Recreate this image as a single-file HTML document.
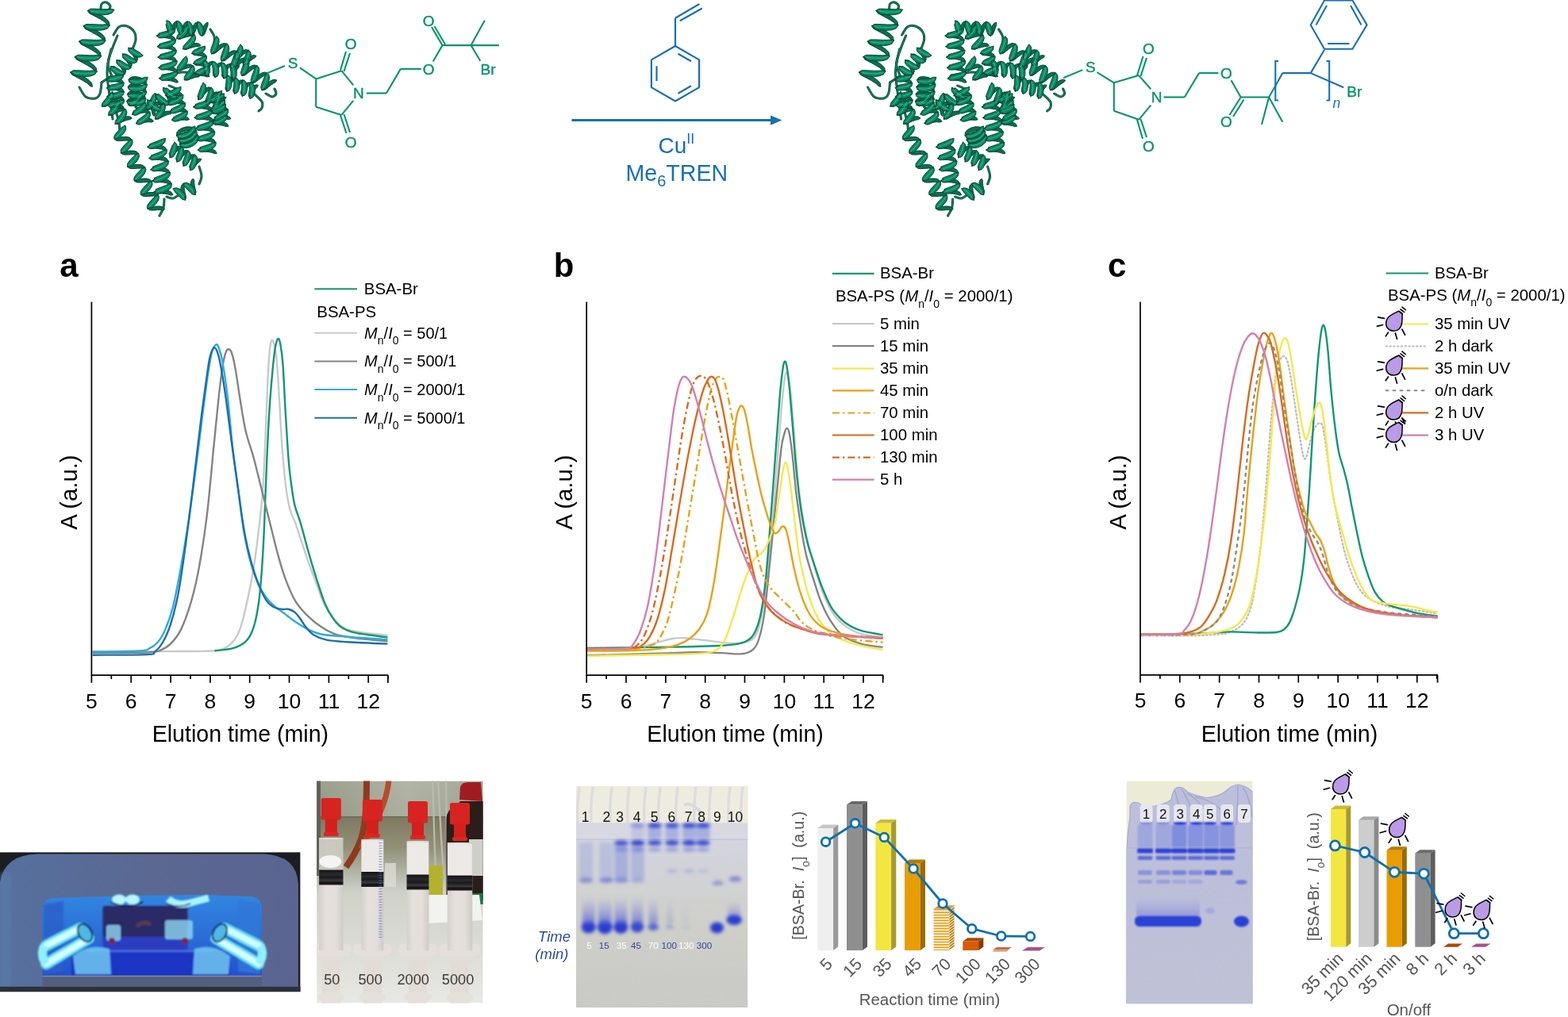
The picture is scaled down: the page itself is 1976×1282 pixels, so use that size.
<!DOCTYPE html>
<html><head><meta charset="utf-8"><title>BSA-PS figure</title>
<style>
html,body{margin:0;padding:0;background:#fff;width:1976px;height:1282px;overflow:hidden}
svg{display:block}
text{font-family:"Liberation Sans",Arial,Helvetica,sans-serif}
</style></head><body>
<svg width="1976" height="1282" viewBox="0 0 1976 1282">
<rect width="1976" height="1282" fill="#fff"/>
<defs>
<path id="pF" d="M139.8,11.3 138.7,11.3 135.1,11.6 129.6,11.6 123.5,11.3 117.9,11.1 113.8,11.2 110.1,13.5 114.2,14.7 113.4,16.8 117.2,17.8 122.9,18.6 129.6,18.9 135.9,18.3 141,16.4 143.9,12.5ZM134.4,30.7 133.3,30.7 129.7,31 124.2,31 118.1,30.7 112.5,30.5 108.4,30.6 104.7,32.9 108.8,34.1 108,36.2 111.8,37.2 117.5,38 124.2,38.3 130.5,37.7 135.6,35.8 138.5,31.9ZM129,50.1 127.9,50.1 124.3,50.4 118.8,50.4 112.7,50.1 107.1,49.9 103,50 99.3,52.3 103.4,53.5 102.6,55.6 106.4,56.6 112.1,57.4 118.8,57.7 125.1,57.1 130.2,55.2 133.1,51.3ZM123.6,69.5 122.5,69.5 118.9,69.8 113.4,69.8 107.3,69.5 101.7,69.3 97.6,69.4 93.9,71.7 98,72.9 97.2,75 101,76 106.7,76.8 113.4,77.1 119.7,76.5 124.8,74.6 127.7,70.7ZM118.2,88.9 117.1,88.9 113.5,89.2 108,89.2 101.9,88.9 96.3,88.7 92.2,88.8 88.5,91.1 92.6,92.3 91.8,94.4 95.6,95.4 101.3,96.2 108,96.5 114.3,95.9 119.4,94 122.3,90.1ZM177.1,67.2 176.7,66.5 175.2,65.7 172.8,64.3 170.1,62.6 167.6,61 165.9,60.2 164.9,62.8 161.9,59.9 161.8,63.9 163.3,66.1 165.9,68.5 169.3,70.7 173.2,72 177,72.1 180.1,70.1ZM169.6,74.9 169.2,74.3 167.7,73.4 165.3,72 162.6,70.3 160.1,68.8 158.4,67.9 157.4,70.6 154.4,67.7 154.3,71.7 155.8,73.9 158.4,76.3 161.8,78.4 165.7,79.8 169.5,79.8 172.6,77.8ZM162.1,82.7 161.7,82 160.2,81.2 157.8,79.8 155.1,78.1 152.6,76.5 150.9,75.7 149.9,78.3 146.9,75.4 146.8,79.4 148.3,81.6 150.9,84 154.3,86.2 158.2,87.5 162,87.6 165.1,85.6ZM154.6,90.4 154.2,89.8 152.7,88.9 150.3,87.5 147.6,85.8 145.1,84.3 143.4,83.4 142.4,86.1 139.4,83.2 139.3,87.2 140.8,89.4 143.4,91.8 146.8,93.9 150.7,95.3 154.5,95.3 157.6,93.3ZM151.8,94.2 151.1,93.8 149.2,94.3 146.1,95.1 142.5,95.8 139.2,96.6 137,97.2 138.2,99.8 134,99.9 136.9,102.8 139.7,103.2 143.7,103.1 148,102.1 152,100.4 155,97.8 156,94.1ZM152.1,104.9 151.4,104.5 149.5,105 146.3,105.8 142.7,106.6 139.4,107.3 137.3,108 138.4,110.6 134.2,110.7 137.2,113.5 140,114 143.9,113.8 148.3,112.9 152.3,111.1 155.3,108.6 156.3,104.8ZM152.3,115.7 151.6,115.3 149.7,115.8 146.6,116.6 143,117.3 139.7,118.1 137.5,118.7 138.7,121.3 134.5,121.4 137.4,124.3 140.2,124.7 144.2,124.6 148.5,123.6 152.5,121.9 155.5,119.3 156.5,115.6ZM152.6,126.4 151.9,126 150,126.5 146.8,127.3 143.2,128.1 139.9,128.8 137.8,129.5 138.9,132.1 134.7,132.2 137.7,135 140.5,135.5 144.4,135.3 148.8,134.4 152.8,132.6 155.8,130.1 156.8,126.3ZM182.1,97.4 181,97.9 178.8,98.6 175.4,99.2 171.5,99.5 168.2,99.4 166.2,99.3 165.9,100.6 161.8,100.2 163.2,104 166.7,105.9 171.3,106.8 176.5,106.5 181.3,104.8 184.9,101.9 186.2,97.8ZM181.3,106.4 180.2,106.9 178,107.6 174.6,108.2 170.8,108.5 167.4,108.4 165.5,108.3 165.2,109.6 161,109.2 162.5,113 165.9,114.9 170.6,115.8 175.7,115.5 180.5,113.8 184.2,110.9 185.5,106.8ZM180.6,115.4 179.5,115.9 177.3,116.6 173.9,117.2 170,117.5 166.7,117.4 164.7,117.3 164.4,118.6 160.3,118.2 161.7,122 165.2,123.9 169.8,124.8 175,124.5 179.8,122.8 183.4,119.9 184.7,115.8ZM179.8,124.4 178.7,124.9 176.5,125.6 173.1,126.2 169.3,126.5 165.9,126.4 164,126.3 163.7,127.6 159.5,127.2 161,131 164.4,132.9 169.1,133.8 174.2,133.5 179,131.8 182.7,128.9 184,124.8ZM221.7,120.6 221.4,119.8 219.7,118.6 217.2,116.6 214.3,114.2 211.7,112.1 209.7,110.7 208.3,113.4 205.7,110.1 205.4,114.3 206.8,116.7 209.3,119.6 212.8,122.5 216.7,124.6 220.6,125.4 224.3,123.9ZM211.7,128.2 211.4,127.5 209.7,126.3 207.2,124.3 204.3,121.9 201.7,119.7 199.7,118.4 198.3,121.1 195.7,117.8 195.4,121.9 196.8,124.3 199.3,127.3 202.8,130.1 206.7,132.3 210.6,133 214.3,131.6ZM201.7,135.9 201.4,135.2 199.7,134 197.2,131.9 194.3,129.5 191.7,127.4 189.7,126 188.3,128.8 185.7,125.4 185.4,129.6 186.8,132 189.3,134.9 192.8,137.8 196.7,139.9 200.6,140.7 204.3,139.2ZM216.7,37.2 215.8,37.2 213.7,38 210.2,39.2 206.1,40.3 202.5,41.3 200,42.1 201.3,44.8 197.1,45.1 200.4,47.7 203.5,47.9 207.8,47.4 212.5,46.1 216.8,43.9 220,41 220.9,36.9ZM217.5,50.6 216.6,50.6 214.5,51.4 211,52.6 206.9,53.7 203.3,54.7 200.8,55.5 202.1,58.2 197.9,58.5 201.2,61.1 204.3,61.3 208.6,60.8 213.3,59.5 217.6,57.3 220.8,54.4 221.7,50.3ZM218.3,64 217.4,64 215.3,64.8 211.8,66 207.7,67.1 204.1,68.1 201.6,68.9 202.9,71.6 198.7,71.9 202,74.5 205.1,74.7 209.4,74.2 214.1,72.9 218.4,70.7 221.6,67.8 222.5,63.7ZM219.1,77.4 218.2,77.4 216.1,78.2 212.6,79.4 208.5,80.5 204.9,81.5 202.4,82.3 203.7,85 199.5,85.3 202.8,87.9 205.9,88.1 210.2,87.6 214.9,86.3 219.2,84.1 222.4,81.2 223.3,77.1ZM219.9,90.8 219,90.8 216.9,91.6 213.4,92.8 209.3,93.9 205.7,94.9 203.2,95.7 204.5,98.4 200.3,98.7 203.6,101.3 206.7,101.5 211,101 215.7,99.7 220,97.5 223.2,94.6 224.1,90.5ZM209.9,30 209.1,30.4 209.3,31.9 209.8,34.5 210.6,37.4 211.6,40.2 212.8,42.5 215.9,44.2 216.1,40 218,40.3 218.1,38.6 217.7,35.8 216.9,32.4 215.5,29.3 213.4,26.8 210.1,25.8ZM222.9,30.5 222.1,30.9 222.3,32.4 222.8,35 223.6,37.9 224.6,40.7 225.8,43 228.9,44.7 229.1,40.5 231,40.8 231.1,39.1 230.7,36.3 229.9,32.9 228.5,29.8 226.4,27.3 223.1,26.3ZM235.9,31 235.1,31.4 235.3,32.9 235.8,35.5 236.6,38.4 237.6,41.2 238.8,43.5 241.9,45.2 242.1,41 244,41.3 244.1,39.6 243.7,36.8 242.9,33.4 241.5,30.3 239.4,27.8 236.1,26.8ZM248.9,31.5 248.1,31.9 248.3,33.4 248.8,36 249.6,38.9 250.6,41.7 251.8,44 254.9,45.7 255.1,41.5 257,41.8 257.1,40.1 256.7,37.3 255.9,33.9 254.5,30.8 252.4,28.3 249.1,27.3ZM270.9,49.1 270.2,49.6 269.5,51.5 268.4,54.7 267,58.4 265.9,61.9 265.4,64.7 266.7,68.3 269.1,64.9 270.7,66.5 272.1,64.5 273.8,61.1 275.3,57 276.1,52.7 275.8,48.8 273.3,45.7ZM283.5,58.3 282.9,58.7 282.2,60.7 281,63.9 279.7,67.6 278.6,71 278,73.8 279.3,77.5 281.8,74 283.3,75.6 284.7,73.7 286.5,70.3 288,66.2 288.8,61.9 288.4,57.9 286,54.9ZM296.2,67.5 295.6,67.9 294.9,69.9 293.7,73.1 292.4,76.7 291.2,80.2 290.7,83 292,86.6 294.5,83.2 296,84.8 297.4,82.8 299.1,79.5 300.7,75.3 301.5,71.1 301.1,67.1 298.7,64ZM308.9,76.6 308.2,77.1 307.5,79 306.4,82.2 305,85.9 303.9,89.4 303.4,92.2 304.7,95.8 307.1,92.4 308.7,94 310.1,92 311.8,88.6 313.3,84.5 314.1,80.2 313.8,76.3 311.3,73.2ZM321.5,85.8 320.9,86.2 320.2,88.2 319,91.4 317.7,95.1 316.6,98.5 316,101.3 317.3,105 319.8,101.5 321.3,103.1 322.7,101.2 324.5,97.8 326,93.7 326.8,89.4 326.4,85.4 324,82.4ZM334.2,95 333.6,95.4 332.9,97.4 331.7,100.6 330.4,104.2 329.2,107.7 328.7,110.5 330,114.1 332.5,110.7 334,112.3 335.4,110.3 337.1,107 338.7,102.8 339.5,98.6 339.1,94.6 336.7,91.5ZM254.3,59.1 253.6,59 252.2,59.6 250,60.6 247.4,61.9 245,63.1 243.3,64.3 241.5,67.6 245.7,66.9 245.2,69.6 247.2,69.4 250.2,68.6 253.4,67.1 256.4,64.8 258.3,61.9 258.5,58.4ZM256.3,71.7 255.6,71.6 254.2,72.2 252,73.3 249.4,74.5 247,75.8 245.3,77 243.5,80.3 247.7,79.6 247.2,82.2 249.2,82.1 252.2,81.3 255.4,79.7 258.4,77.5 260.3,74.6 260.5,71.1ZM258.3,84.4 257.6,84.3 256.2,84.9 254,86 251.4,87.2 249,88.5 247.3,89.6 245.5,92.9 249.7,92.3 249.2,94.9 251.2,94.8 254.2,94 257.4,92.4 260.4,90.2 262.3,87.3 262.5,83.7ZM256,79.8 256.2,80.7 256.6,82.5 257,85.2 257.3,88.2 257.5,91 257.7,92.6 260,92.2 259.5,96.4 262.9,94.6 264.1,91.8 264.6,88.1 264.2,83.9 262.8,79.9 260.2,76.8 256.5,75.6ZM267.2,81.3 267.4,82.2 267.8,84 268.3,86.7 268.5,89.7 268.7,92.5 268.9,94.1 271.3,93.7 270.7,97.9 274.2,96.1 275.4,93.3 275.9,89.6 275.5,85.4 274,81.4 271.4,78.3 267.8,77.1ZM278.5,82.8 278.7,83.7 279.1,85.5 279.5,88.2 279.8,91.2 280,94 280.2,95.6 282.5,95.2 282,99.4 285.4,97.6 286.6,94.8 287.1,91.1 286.7,86.9 285.3,82.9 282.7,79.8 279,78.6ZM289.7,84.3 289.9,85.2 290.3,87 290.8,89.7 291,92.7 291.2,95.5 291.4,97.1 293.8,96.7 293.2,100.9 296.7,99.1 297.9,96.3 298.4,92.6 298,88.4 296.5,84.4 293.9,81.3 290.3,80.1ZM231.5,73.5 230.8,74 229.8,75.5 228.1,77.9 226.1,80.6 224.3,83.2 223.2,85.3 223.2,89.1 226.5,86.5 227.4,88.9 229.3,87.7 231.8,85.2 234.2,82 236,78.2 236.4,74.4 234.8,70.9ZM240.5,85.5 239.8,86 238.8,87.5 237.1,89.9 235.1,92.6 233.3,95.2 232.2,97.3 232.2,101.1 235.5,98.5 236.4,100.9 238.3,99.7 240.8,97.2 243.2,94 245,90.2 245.4,86.4 243.8,82.9ZM285.3,98.6 285.1,99.4 285,101.1 284.9,103.8 284.6,106.9 284.3,109.7 284.2,111.4 286.7,111.4 285.5,115.4 289.1,114.1 290.7,111.6 291.8,108.1 292.2,104 291.6,99.9 289.8,96.4 286.5,94.6ZM295,101.6 294.8,102.4 294.8,104.1 294.7,106.8 294.3,109.9 294,112.7 294,114.4 296.5,114.4 295.2,118.4 298.9,117.1 300.4,114.6 301.6,111.1 302,107 301.4,102.9 299.6,99.4 296.3,97.6ZM304.8,104.6 304.6,105.4 304.5,107.1 304.4,109.8 304.1,112.9 303.8,115.7 303.7,117.4 306.2,117.4 305,121.4 308.6,120.1 310.2,117.6 311.3,114.1 311.7,110 311.1,105.9 309.3,102.4 306,100.6ZM314.5,107.6 314.3,108.4 314.3,110.1 314.2,112.8 313.8,115.9 313.5,118.7 313.5,120.4 316,120.4 314.7,124.4 318.4,123.1 319.9,120.6 321.1,117.1 321.5,113 320.9,108.9 319.1,105.4 315.8,103.6ZM254.2,107.6 253.6,108.1 253,110 251.9,113.1 250.6,116.5 249.5,119.7 248.9,121.9 251.8,122.4 249.6,125.9 253.6,124.9 255.4,122.8 257.4,119.4 258.9,115.2 259.6,110.9 259.1,107 256.4,104.1ZM263.9,113.6 263.2,114.1 262.6,116 261.6,119.1 260.3,122.5 259.1,125.7 258.5,127.9 261.4,128.4 259.2,131.9 263.2,130.9 265.1,128.8 267,125.4 268.6,121.2 269.3,116.9 268.7,113 266.1,110.1ZM273.6,119.6 272.9,120.1 272.3,122 271.3,125.1 270,128.5 268.8,131.7 268.2,133.9 271.1,134.4 268.9,137.9 272.9,136.9 274.8,134.8 276.7,131.4 278.3,127.2 278.9,122.9 278.4,119 275.8,116.1ZM275.5,115.8 274.7,115.9 273.1,117 270.3,118.8 267.1,120.8 264.3,122.5 262.4,123.9 264.5,126.2 260.5,127.5 264.3,129.2 267,128.7 270.7,127.2 274.5,124.9 277.7,121.9 279.7,118.4 279.5,114.5ZM279.5,127.5 278.7,127.5 277.1,128.7 274.3,130.5 271.1,132.4 268.3,134.2 266.4,135.6 268.5,137.8 264.5,139.2 268.3,140.8 271,140.3 274.7,138.9 278.5,136.5 281.7,133.5 283.7,130.1 283.5,126.2ZM283.5,139.2 282.7,139.2 281.1,140.4 278.3,142.2 275.1,144.1 272.3,145.9 270.4,147.3 272.5,149.5 268.5,150.9 272.3,152.5 275,152 278.7,150.5 282.5,148.2 285.7,145.2 287.7,141.7 287.5,137.8ZM224,110.6 223.2,110.4 221.5,111.4 218.6,112.9 215.3,114.5 212.2,115.9 210.3,117.1 212,119.4 208,120.4 211.5,122.5 214.3,122.3 218.1,121.2 222.1,119.3 225.6,116.7 227.9,113.4 228,109.6ZM226.7,120.9 226,120.7 224.2,121.6 221.3,123.1 218,124.7 215,126.2 213,127.3 214.8,129.6 210.7,130.7 214.2,132.8 217.1,132.5 220.9,131.5 224.9,129.5 228.4,126.9 230.7,123.7 230.8,119.8ZM229.5,131.1 228.7,130.9 227,131.9 224.1,133.4 220.8,135 217.7,136.4 215.8,137.6 217.5,139.9 213.5,140.9 217,143 219.8,142.8 223.6,141.7 227.6,139.8 231.1,137.2 233.4,133.9 233.5,130.1ZM232.2,141.4 231.5,141.2 229.7,142.1 226.8,143.6 223.5,145.2 220.5,146.7 218.5,147.8 220.3,150.1 216.2,151.2 219.7,153.3 222.6,153 226.4,152 230.4,150 233.9,147.4 236.2,144.2 236.3,140.3ZM154.2,160.1 153.5,160.3 152.1,161.7 149.9,163.9 147.4,166.6 145.2,169.4 143.8,172.1 144,175.7 147.8,173.9 148.5,175 150.2,173.9 152.7,171.7 155.4,168.8 157.7,165.5 158.9,161.9 158,158.3ZM162.6,177.6 161.8,177.8 160.5,179.2 158.3,181.4 155.8,184.1 153.5,186.9 152.1,189.6 152.3,193.2 156.1,191.4 156.9,192.5 158.5,191.4 161,189.2 163.7,186.3 166,183 167.2,179.4 166.4,175.8ZM170.9,195.1 170.2,195.3 168.8,196.7 166.6,198.9 164.1,201.6 161.9,204.4 160.4,207.1 160.6,210.7 164.4,208.9 165.2,210 166.8,208.9 169.3,206.7 172.1,203.8 174.3,200.5 175.5,196.9 174.7,193.3ZM179.2,212.6 178.5,212.8 177.1,214.2 174.9,216.4 172.4,219.1 170.2,221.9 168.8,224.6 169,228.2 172.8,226.4 173.5,227.5 175.2,226.4 177.7,224.2 180.4,221.3 182.7,218 183.9,214.4 183,210.8ZM187.6,230.1 186.8,230.3 185.5,231.7 183.3,233.9 180.8,236.6 178.5,239.4 177.1,242.1 177.3,245.7 181.1,243.9 181.9,245 183.5,243.9 186,241.7 188.7,238.8 191,235.5 192.2,231.9 191.4,228.3ZM195.9,247.6 195.2,247.8 193.8,249.2 191.6,251.4 189.1,254.1 186.9,256.9 185.4,259.6 185.6,263.2 189.4,261.4 190.2,262.5 191.8,261.4 194.3,259.2 197.1,256.3 199.3,253 200.5,249.4 199.7,245.8ZM204.3,175.3 203.5,175.5 201.4,176.6 198,178.1 194,179.6 190.5,180.9 188.1,182 189.7,184.7 185.5,185.2 189.1,187.5 192.1,187.4 196.3,186.5 200.9,184.7 205.1,182.2 207.9,178.9 208.5,174.8ZM206.3,189.5 205.5,189.7 203.4,190.8 200,192.3 196,193.8 192.5,195.1 190.1,196.2 191.7,198.9 187.5,199.4 191.1,201.7 194.1,201.6 198.3,200.7 202.9,198.9 207.1,196.4 209.9,193.1 210.5,189ZM208.3,203.7 207.5,203.9 205.4,205 202,206.5 198,208 194.5,209.3 192.1,210.4 193.7,213.1 189.5,213.6 193.1,215.9 196.1,215.8 200.3,214.9 204.9,213.1 209.1,210.6 211.9,207.3 212.5,203.2ZM210.3,217.9 209.5,218.1 207.4,219.2 204,220.7 200,222.2 196.5,223.5 194.1,224.6 195.7,227.3 191.5,227.8 195.1,230.1 198.1,230 202.3,229.1 206.9,227.3 211.1,224.8 213.9,221.5 214.5,217.4ZM212.3,232.1 211.5,232.3 209.4,233.4 206,234.9 202,236.4 198.5,237.7 196.1,238.8 197.7,241.5 193.5,242 197.1,244.3 200.1,244.2 204.3,243.3 208.9,241.5 213.1,239 215.9,235.7 216.5,231.6ZM218,182.7 217.2,182.9 216.6,184.5 215.7,187.2 214.5,190.2 213.5,193 213.1,195 216,195.3 213.8,198.9 217.8,198 219.5,196.1 221.3,193.1 222.7,189.3 223.3,185.4 222.7,181.8 220.2,179.1ZM226.5,187.9 225.7,188.2 225.1,189.7 224.2,192.4 223,195.5 222,198.3 221.6,200.2 224.5,200.6 222.3,204.2 226.3,203.3 228,201.4 229.8,198.3 231.2,194.6 231.8,190.7 231.2,187 228.7,184.3ZM235,193.2 234.2,193.4 233.6,195 232.7,197.7 231.5,200.7 230.5,203.5 230.1,205.5 233,205.8 230.8,209.4 234.8,208.5 236.5,206.6 238.3,203.6 239.7,199.8 240.3,195.9 239.7,192.3 237.2,189.6ZM243.5,198.4 242.7,198.7 242.1,200.2 241.2,202.9 240,206 239,208.8 238.6,210.7 241.5,211.1 239.3,214.7 243.3,213.8 245,211.9 246.8,208.8 248.2,205.1 248.8,201.2 248.2,197.5 245.7,194.8ZM220.2,241.4 220.5,242.1 221.8,243.4 223.8,245.5 226.1,247.9 228.3,250.1 230,251.5 233.8,252.3 231.8,248.6 234.5,248.2 233.6,246 231.6,243.1 228.9,240.2 225.5,237.8 221.8,236.7 218.2,237.7ZM232.7,234.9 233,235.6 234.3,236.9 236.3,239 238.6,241.4 240.8,243.6 242.5,245 246.3,245.8 244.3,242.1 247,241.7 246.1,239.5 244.1,236.6 241.4,233.7 238,231.3 234.3,230.2 230.7,231.2ZM241.9,160.6 241.1,162 239.3,163.9 236.1,165.9 232.4,167.6 229,168.6 226.8,168.9 226.1,169.4 222.1,170.8 224.8,174.2 229.4,175.3 234.7,174.6 239.9,172.2 244.1,168.5 246.4,163.9 245.9,159.2ZM243.9,166.3 243.1,167.7 241.3,169.5 238.1,171.6 234.4,173.3 231,174.3 228.8,174.6 228.1,175 224.1,176.4 226.8,179.8 231.4,181 236.7,180.2 241.9,177.8 246.1,174.1 248.4,169.5 247.9,164.9ZM245.9,172 245.1,173.3 243.3,175.2 240.1,177.2 236.4,178.9 233,179.9 230.8,180.3 230.1,180.7 226.1,182.1 228.8,185.5 233.4,186.6 238.7,185.9 243.9,183.5 248.1,179.8 250.4,175.2 249.9,170.6ZM262.5,125.8 261.7,125.9 259.5,126.8 256.1,128.1 252.1,129.4 248.5,130.6 246,131.6 247.5,134.2 243.3,134.6 246.7,137.1 249.8,137.2 254,136.5 258.7,134.9 262.9,132.6 266,129.4 266.7,125.4ZM263.9,139.4 263.1,139.5 260.9,140.4 257.5,141.7 253.5,143 249.9,144.2 247.4,145.2 248.9,147.8 244.7,148.2 248.1,150.7 251.2,150.8 255.4,150.1 260.1,148.5 264.3,146.2 267.4,143 268.1,139ZM265.3,153 264.5,153.1 262.3,154 258.9,155.3 254.9,156.6 251.3,157.8 248.8,158.8 250.3,161.4 246.1,161.8 249.5,164.3 252.6,164.4 256.8,163.7 261.5,162.1 265.7,159.8 268.8,156.6 269.5,152.6ZM266.7,166.6 265.9,166.7 263.7,167.6 260.3,168.9 256.3,170.2 252.7,171.4 250.2,172.4 251.7,175 247.5,175.4 250.9,177.9 254,178 258.2,177.3 262.9,175.7 267.1,173.4 270.2,170.2 270.9,166.2ZM268.1,180.2 267.3,180.3 265.1,181.2 261.7,182.5 257.7,183.8 254.1,185 251.6,186 253.1,188.6 248.9,189 252.3,191.5 255.4,191.6 259.6,190.9 264.3,189.3 268.5,187 271.6,183.8 272.3,179.8ZM278.3,118.7 277.6,118.8 275.9,119.5 273.3,120.8 270.2,122.1 267.5,123.4 265.5,124.6 263.5,127.9 267.7,127.3 267.2,129.9 269.5,129.8 272.9,128.9 276.6,127.3 279.9,124.9 282.2,121.9 282.5,118.1ZM280.3,132.4 279.6,132.4 277.9,133.2 275.3,134.4 272.2,135.8 269.5,137.1 267.5,138.3 265.5,141.5 269.7,140.9 269.2,143.6 271.5,143.5 274.9,142.6 278.6,141 281.9,138.6 284.2,135.5 284.5,131.8ZM282.3,146.1 281.6,146.1 279.9,146.9 277.3,148.1 274.2,149.4 271.5,150.8 269.5,151.9 267.5,155.2 271.7,154.6 271.2,157.3 273.5,157.1 276.9,156.3 280.6,154.6 283.9,152.3 286.2,149.2 286.5,145.5ZM138.4,118.1 137.7,118.5 136.6,120.2 134.6,122.9 132.2,125.8 130,128.5 128.7,130.5 128.2,134.5 131.6,131.9 132.4,134.7 134.7,133.2 137.7,130.6 140.5,127.2 142.6,123.2 143.3,119.2 141.8,115.5ZM146.7,129.1 146.1,129.5 144.9,131.2 142.9,133.9 140.5,136.8 138.4,139.5 137,141.5 136.6,145.5 139.9,142.9 140.8,145.7 143.1,144.2 146,141.6 148.8,138.2 150.9,134.2 151.6,130.2 150.1,126.5ZM155.1,140.1 154.4,140.5 153.2,142.2 151.2,144.9 148.9,147.8 146.7,150.5 145.4,152.5 144.9,156.5 148.3,153.9 149.1,156.7 151.4,155.2 154.3,152.6 157.1,149.2 159.2,145.2 160,141.2 158.4,137.5ZM175.1,119.4 174.3,119.8 172.8,121.1 170.3,123.1 167.3,125.3 164.6,127.2 162.9,128.6 164.9,130.6 161,132.3 164.8,133.9 167.7,133.2 171.3,131.5 174.9,128.8 177.9,125.4 179.6,121.6 179,117.7ZM180.1,131 179.3,131.4 177.8,132.8 175.3,134.8 172.3,137 169.6,138.9 167.9,140.3 169.9,142.3 166,144 169.8,145.5 172.7,144.9 176.3,143.1 179.9,140.5 182.9,137.1 184.6,133.3 184,129.4ZM185.1,142.7 184.3,143.1 182.8,144.5 180.3,146.5 177.3,148.6 174.6,150.6 172.9,152 174.9,154 171,155.6 174.8,157.2 177.7,156.5 181.3,154.8 184.9,152.1 187.9,148.8 189.6,145 189,141ZM192.3,120.3 191.8,121.1 190.9,123 189.2,126 187.2,129.2 185.5,132.3 184.4,134.6 184.6,138.5 187.7,135.7 188.8,138 190.8,136.3 193.3,133.3 195.7,129.4 197.2,125.2 197.4,121 195.4,117.5ZM203.3,132.3 202.8,133.1 201.9,135 200.2,138 198.2,141.2 196.5,144.3 195.4,146.6 195.6,150.5 198.7,147.7 199.8,150 201.8,148.3 204.3,145.3 206.7,141.4 208.2,137.2 208.4,133 206.4,129.5ZM233.9,33.1 233.2,33.7 231.9,35.3 229.7,37.8 227.1,40.6 224.7,43.2 223.2,45.2 222.5,49.1 226.1,46.9 226.8,49.5 229.1,48.2 232.2,45.9 235.3,42.6 237.7,38.7 238.7,34.7 237.5,30.9ZM241.9,46.1 241.2,46.7 239.9,48.3 237.7,50.8 235.1,53.6 232.7,56.2 231.2,58.2 230.5,62.1 234.1,59.9 234.8,62.5 237.1,61.2 240.2,58.9 243.3,55.6 245.7,51.7 246.7,47.7 245.5,43.9ZM300.9,59.4 300.3,59.8 299.7,61.5 298.7,64.2 297.5,67.3 296.4,70.1 295.9,72.2 296.7,76 299.1,72.6 300.7,75 302.4,73.2 304.2,70.2 305.6,66.5 306.3,62.5 305.7,58.8 303.3,56ZM310.9,66.4 310.3,66.8 309.7,68.5 308.7,71.2 307.5,74.3 306.4,77.1 305.9,79.2 306.7,83 309.1,79.6 310.7,82 312.4,80.2 314.2,77.2 315.6,73.5 316.3,69.5 315.7,65.8 313.3,63Z"/><path id="pB" d="M110.6,13.7 112.5,16.7 116,18.6 121,21.2 126.5,24.2 131.2,27.2 134.1,29.7 134.9,30.9 138,31.7 137.4,27.5 134,23.7 128.9,20.1 123.1,16.9 117.9,14.6 114.2,13.2 113.7,14.5ZM105.2,33.1 107.1,36.1 110.6,38 115.6,40.6 121.1,43.6 125.8,46.6 128.7,49.1 129.5,50.3 132.6,51.1 132,46.9 128.6,43.1 123.5,39.5 117.7,36.3 112.5,34 108.8,32.6 108.3,33.9ZM99.8,52.5 101.7,55.5 105.2,57.4 110.2,60 115.7,63 120.4,66 123.3,68.5 124.1,69.7 127.2,70.5 126.6,66.3 123.2,62.5 118.1,58.9 112.3,55.7 107.1,53.4 103.4,52 102.9,53.3ZM94.4,71.9 96.3,74.9 99.8,76.8 104.8,79.4 110.3,82.4 115,85.4 117.9,87.9 118.7,89.1 121.8,89.9 121.2,85.7 117.8,81.9 112.7,78.3 106.9,75.1 101.7,72.8 98,71.4 97.5,72.7ZM89,91.3 90.9,94.3 94.4,96.2 99.4,98.8 104.9,101.8 109.6,104.8 112.5,107.3 113.3,108.5 116.4,109.3 115.8,105.1 112.4,101.3 107.3,97.7 101.5,94.5 96.3,92.2 92.6,90.8 92.1,92.1ZM164.5,62.5 162.8,63.3 164,64.9 165.8,67.3 167.7,70.1 169.1,72.7 169.8,74.6 170,75.3 172.3,77.5 173.7,74.6 173.3,71.2 171.8,67.7 169.6,64.4 167.3,61.9 165.3,60.3 162.2,60.3ZM157,70.2 155.3,71 156.5,72.6 158.3,75 160.2,77.8 161.6,80.5 162.3,82.3 162.5,83 164.8,85.2 166.2,82.4 165.8,79 164.3,75.4 162.1,72.2 159.8,69.6 157.8,68.1 154.7,68ZM149.5,78 147.8,78.8 149,80.4 150.8,82.8 152.7,85.6 154.1,88.2 154.8,90.1 155,90.8 157.3,93 158.7,90.1 158.3,86.7 156.8,83.2 154.6,79.9 152.3,77.4 150.3,75.8 147.2,75.8ZM142,85.7 140.3,86.5 141.5,88.1 143.3,90.5 145.2,93.3 146.6,96 147.3,97.8 147.5,98.5 149.8,100.7 151.2,97.9 150.8,94.5 149.3,90.9 147.1,87.7 144.8,85.1 142.8,83.6 139.7,83.5ZM137.7,99.9 137.1,101.7 139.4,102 142.8,102.4 146.6,103 149.9,103.8 152,104.7 152.6,104.9 155.8,104.8 154.5,101.7 151.5,99.7 147.6,98.4 143.3,97.7 139.5,97.5 136.8,97.8 134.5,99.9ZM137.9,110.6 137.3,112.4 139.6,112.7 143,113.1 146.8,113.8 150.1,114.6 152.2,115.4 152.8,115.6 156,115.6 154.8,112.5 151.8,110.5 147.9,109.1 143.6,108.4 139.8,108.3 137.1,108.6 134.7,110.7ZM138.2,121.4 137.6,123.2 139.9,123.5 143.3,123.9 147.1,124.5 150.4,125.3 152.5,126.2 153.1,126.4 156.3,126.3 155,123.2 152,121.2 148.1,119.9 143.8,119.2 140,119 137.3,119.3 135,121.4ZM138.4,132.1 137.8,133.9 140.1,134.2 143.5,134.6 147.3,135.3 150.6,136.1 152.7,136.9 153.3,137.1 156.5,137.1 155.3,134 152.3,132 148.4,130.6 144.1,129.9 140.3,129.8 137.6,130.1 135.2,132.2ZM165.4,100.6 165.7,101.2 167.9,101 171.4,101.4 175.4,102.3 178.9,103.7 181,105.2 181.8,106.4 185,106.7 184.2,103 181.2,99.9 176.9,97.8 172.1,96.7 167.6,96.6 164.2,97.6 162.3,100.3ZM164.7,109.6 164.9,110.2 167.1,110 170.7,110.4 174.6,111.3 178.1,112.7 180.3,114.2 181.1,115.4 184.2,115.7 183.5,112 180.4,108.9 176.1,106.8 171.3,105.7 166.9,105.6 163.4,106.6 161.5,109.3ZM163.9,118.6 164.2,119.2 166.4,119 169.9,119.4 173.9,120.3 177.4,121.7 179.5,123.2 180.3,124.4 183.5,124.7 182.7,121 179.7,117.9 175.4,115.8 170.6,114.7 166.1,114.6 162.7,115.6 160.8,118.3ZM163.2,127.6 163.4,128.2 165.6,128 169.2,128.4 173.1,129.3 176.6,130.7 178.8,132.2 179.6,133.4 182.7,133.7 182,130 178.9,126.9 174.6,124.8 169.8,123.7 165.4,123.6 161.9,124.6 160,127.3ZM208,113 206,113.6 207,115.7 208.6,118.8 210.3,122.4 211.5,125.6 211.9,127.8 212,128.6 213.9,131.2 215.8,128.3 215.8,124.6 214.7,120.6 212.9,116.6 210.8,113.4 209.2,111.4 206.1,110.5ZM198,120.7 196,121.3 197,123.4 198.6,126.5 200.3,130 201.5,133.3 201.9,135.5 202,136.3 203.9,138.8 205.8,136 205.8,132.3 204.7,128.3 202.9,124.3 200.8,121.1 199.2,119 196.1,118.2ZM188,128.4 186,128.9 187,131.1 188.6,134.2 190.3,137.7 191.5,140.9 191.9,143.2 192,144 193.9,146.5 195.8,143.7 195.8,140 194.7,135.9 192.9,132 190.8,128.7 189.2,126.7 186.1,125.8ZM200.8,44.9 200.3,46.8 202.9,47.1 206.8,47.5 211,48.1 214.8,49 217.2,50 218,50.5 221.2,50.4 219.7,47.1 216.4,44.9 212,43.5 207.3,42.7 203.1,42.6 200.1,42.9 197.6,45ZM201.6,58.3 201.1,60.2 203.7,60.5 207.6,60.9 211.8,61.5 215.6,62.4 218,63.4 218.8,63.9 222,63.8 220.5,60.5 217.2,58.3 212.8,56.9 208.1,56.1 203.9,56 200.9,56.3 198.4,58.4ZM202.4,71.7 201.9,73.6 204.5,73.9 208.4,74.3 212.6,74.9 216.4,75.8 218.8,76.8 219.6,77.3 222.8,77.2 221.3,73.9 218,71.7 213.6,70.3 208.9,69.5 204.7,69.4 201.7,69.7 199.2,71.8ZM203.2,85.1 202.7,87 205.3,87.3 209.2,87.7 213.4,88.3 217.2,89.2 219.6,90.2 220.4,90.7 223.6,90.6 222.1,87.3 218.8,85.1 214.4,83.7 209.7,82.9 205.5,82.8 202.5,83.1 200,85.2ZM204,98.5 203.5,100.4 206.1,100.7 210,101.1 214.2,101.7 218,102.6 220.4,103.6 221.2,104.1 224.4,104 222.9,100.7 219.6,98.5 215.2,97.1 210.5,96.3 206.3,96.2 203.3,96.5 200.8,98.6ZM215.9,43.7 218.3,42.3 219.4,40.2 220.5,37.5 221.5,34.5 222.4,31.9 223.1,30.4 223,30 223.1,26.8 220.3,27.7 218.5,29.9 217,32.9 216,36 215.2,38.8 214.9,40.6 216,40.5ZM228.9,44.2 231.3,42.8 232.4,40.7 233.5,38 234.5,35 235.4,32.4 236.1,30.9 236,30.5 236.1,27.3 233.3,28.2 231.5,30.4 230,33.4 229,36.5 228.2,39.3 227.9,41.1 229,41ZM241.9,44.7 244.3,43.3 245.4,41.2 246.5,38.5 247.5,35.5 248.4,32.9 249.1,31.4 249,31 249.1,27.8 246.3,28.7 244.5,30.9 243,33.9 242,37 241.2,39.8 240.9,41.6 242,41.5ZM254.9,45.2 257.3,43.8 258.4,41.7 259.5,39 260.5,36 261.4,33.4 262.1,31.9 262,31.5 262.1,28.3 259.3,29.2 257.5,31.4 256,34.4 255,37.5 254.2,40.3 253.9,42.1 255,42ZM267,67.9 270,67.7 272.2,66.2 275.1,63.9 278.2,61.4 281.1,59.3 283.2,58.2 283.8,57.9 285.7,55.3 282.5,54.4 279,55.4 275.4,57.5 272,60.2 269.3,62.8 267.6,64.6 268.8,65.3ZM279.6,77 282.7,76.9 284.9,75.3 287.8,73 290.9,70.5 293.8,68.5 295.8,67.4 296.5,67 298.4,64.5 295.2,63.5 291.7,64.6 288.1,66.7 284.7,69.4 282,72 280.3,73.8 281.5,74.5ZM292.3,86.2 295.3,86 297.6,84.5 300.4,82.2 303.6,79.7 306.5,77.7 308.5,76.5 309.2,76.2 311,73.6 307.8,72.7 304.3,73.7 300.7,75.9 297.4,78.6 294.6,81.2 293,82.9 294.2,83.6ZM305,95.4 308,95.2 310.2,93.7 313.1,91.4 316.2,88.9 319.1,86.8 321.2,85.7 321.8,85.4 323.7,82.8 320.5,81.9 317,82.9 313.4,85 310,87.7 307.3,90.3 305.6,92.1 306.8,92.8ZM317.6,104.5 320.7,104.4 322.9,102.8 325.8,100.5 328.9,98 331.8,96 333.8,94.9 334.5,94.5 336.4,92 333.2,91 329.7,92.1 326.1,94.2 322.7,96.9 320,99.5 318.3,101.3 319.5,102ZM330.3,113.7 333.3,113.5 335.6,112 338.4,109.7 341.6,107.2 344.5,105.2 346.5,104 347.2,103.7 349,101.1 345.8,100.2 342.3,101.2 338.7,103.4 335.4,106.1 332.6,108.7 331,110.4 332.2,111.1ZM242,67.5 244.2,69.3 246.2,69.6 248.9,69.9 251.9,70.3 254.6,70.9 256.2,71.4 256.8,71.7 260,71.2 258.7,68.4 256.1,66.7 252.8,65.7 249.3,65.2 246.3,65.2 244.4,65.4 245.2,67ZM244,80.2 246.2,82 248.2,82.3 250.9,82.6 253.9,83 256.6,83.5 258.2,84.1 258.8,84.3 262,83.8 260.7,81.1 258.1,79.3 254.8,78.3 251.3,77.9 248.3,77.9 246.4,78.1 247.2,79.7ZM246,92.8 248.2,94.6 250.2,95 252.9,95.3 255.9,95.7 258.6,96.2 260.2,96.7 260.8,97 264,96.5 262.7,93.8 260.1,92 256.8,91 253.3,90.5 250.3,90.5 248.4,90.8 249.2,92.3ZM260,92.7 261.4,93.3 261.7,91.5 262.5,88.7 263.6,85.7 265,83 266.3,81.4 267.3,80.8 267.7,77.6 264.4,78 261.5,80.3 259.3,83.7 257.9,87.4 257.3,90.9 257.5,93.6 259.5,95.9ZM271.2,94.2 272.6,94.8 273,93 273.7,90.2 274.9,87.2 276.3,84.5 277.6,82.9 278.5,82.3 279,79.1 275.6,79.5 272.7,81.8 270.6,85.2 269.2,88.9 268.6,92.4 268.7,95.1 270.8,97.4ZM282.5,95.7 283.9,96.3 284.2,94.5 285,91.7 286.1,88.7 287.5,86 288.8,84.4 289.8,83.8 290.2,80.6 286.9,81 284,83.3 281.8,86.7 280.4,90.4 279.8,93.9 280,96.6 282,98.9ZM293.7,97.2 295.1,97.8 295.5,96 296.2,93.2 297.4,90.2 298.8,87.5 300.1,85.9 301,85.3 301.5,82.1 298.1,82.5 295.2,84.8 293.1,88.2 291.7,91.9 291.1,95.4 291.2,98.1 293.3,100.4ZM223.6,88.8 226.5,89.3 228.6,88.6 231.6,87.4 234.9,86.2 237.9,85.3 240,85.1 240.9,85.2 243.4,83.2 240.8,81.3 237.3,80.9 233.5,81.7 229.8,83 226.7,84.6 224.8,85.8 226.1,86.8ZM232.6,100.8 235.5,101.3 237.6,100.6 240.6,99.4 243.9,98.2 246.9,97.3 249,97.1 249.9,97.2 252.4,95.2 249.8,93.3 246.3,92.9 242.5,93.7 238.8,95 235.7,96.6 233.8,97.8 235.1,98.8ZM286.6,111.9 287.9,112.7 288.6,111 289.8,108.4 291.4,105.5 293.1,103 294.5,101.6 295.2,101.1 296.1,98.1 292.9,98 289.9,99.9 287.4,102.9 285.5,106.4 284.3,109.7 284,112.3 285.6,114.9ZM296.3,114.9 297.6,115.7 298.3,114 299.5,111.4 301.1,108.5 302.8,106 304.2,104.6 304.9,104.1 305.9,101.1 302.6,101 299.6,102.9 297.1,105.9 295.2,109.4 294.1,112.7 293.8,115.3 295.4,117.9ZM306.1,117.9 307.4,118.7 308.1,117 309.3,114.4 310.9,111.5 312.6,109 314,107.6 314.7,107.1 315.6,104.1 312.4,104 309.4,105.9 306.9,108.9 305,112.4 303.8,115.7 303.5,118.3 305.1,120.9ZM315.8,120.9 317.1,121.7 317.8,120 319,117.4 320.6,114.5 322.3,112 323.7,110.6 324.4,110.1 325.4,107.1 322.1,107 319.1,108.9 316.6,111.9 314.7,115.4 313.6,118.7 313.3,121.3 314.9,123.9ZM251.5,122.8 252.7,124.3 254.3,122.6 256.5,120 259.2,117.2 261.7,114.9 263.6,113.6 264.2,113.2 265.8,110.5 262.6,109.8 259.2,111.2 255.9,113.7 252.9,116.9 250.7,120 249.4,122.3 249.8,125.5ZM261.2,128.8 262.4,130.3 263.9,128.6 266.2,126 268.8,123.2 271.4,120.9 273.2,119.6 273.8,119.2 275.5,116.5 272.2,115.8 268.9,117.2 265.5,119.7 262.6,122.9 260.3,126 259.1,128.3 259.5,131.5ZM270.8,134.8 272.1,136.3 273.6,134.6 275.9,132 278.5,129.2 281,126.9 282.9,125.6 283.5,125.2 285.2,122.5 281.9,121.8 278.5,123.2 275.2,125.7 272.2,128.9 270,132 268.7,134.3 269.2,137.5ZM264,126.3 263.9,128.4 266.3,128 269.7,127.5 273.5,127.1 277,126.9 279.3,127.2 280,127.3 283,126.3 280.9,123.7 277.4,122.5 273.2,122.3 268.9,122.8 265.2,123.7 262.7,124.7 261,127.4ZM268,138 267.9,140.1 270.3,139.7 273.7,139.2 277.5,138.7 281,138.6 283.3,138.9 284,139 287,138 284.9,135.3 281.4,134.2 277.2,134 272.9,134.5 269.2,135.4 266.7,136.3 265,139ZM272,149.6 271.9,151.7 274.3,151.4 277.7,150.8 281.5,150.4 285,150.3 287.3,150.5 288,150.7 291,149.6 288.9,147 285.4,145.9 281.2,145.6 276.9,146.1 273.2,147 270.7,148 269,150.7ZM211.5,119.5 211.4,121.4 213.7,121.1 217.1,120.7 220.9,120.4 224.4,120.4 226.6,120.7 227.2,120.8 230.3,119.9 228.4,117.3 225,116 220.8,115.6 216.5,116 212.8,116.7 210.2,117.7 208.4,120.3ZM214.3,129.7 214.2,131.6 216.4,131.3 219.9,130.9 223.7,130.7 227.1,130.7 229.3,131 230,131 233.1,130.2 231.1,127.5 227.7,126.3 223.6,125.9 219.3,126.2 215.5,127 213,127.9 211.2,130.6ZM217,140 216.9,141.9 219.2,141.6 222.6,141.2 226.4,140.9 229.9,140.9 232.1,141.2 232.7,141.3 235.8,140.4 233.9,137.8 230.5,136.5 226.3,136.1 222,136.5 218.3,137.2 215.7,138.2 213.9,140.8ZM219.8,150.2 219.7,152.1 221.9,151.8 225.4,151.4 229.2,151.2 232.6,151.2 234.8,151.5 235.5,151.5 238.6,150.7 236.6,148 233.2,146.8 229.1,146.4 224.8,146.7 221,147.5 218.5,148.4 216.7,151.1ZM144.4,175.5 146.7,177.3 149.6,177.6 153.1,177.5 156.8,177.2 160.1,177.1 162.2,177.2 163,177.4 165.9,176 163.7,173.6 160.4,172.6 156.6,172.5 152.7,172.7 149.3,173.2 147.3,173.5 147.3,174.1ZM152.7,193 155.1,194.8 157.9,195.1 161.4,195 165.1,194.7 168.4,194.6 170.6,194.7 171.4,194.9 174.3,193.5 172.1,191.1 168.8,190.1 164.9,190 161,190.2 157.7,190.7 155.6,191 155.6,191.6ZM161.1,210.5 163.4,212.3 166.3,212.6 169.8,212.5 173.5,212.2 176.8,212.1 178.9,212.2 179.7,212.4 182.6,211 180.4,208.6 177.1,207.6 173.3,207.5 169.3,207.7 166,208.2 163.9,208.5 164,209.1ZM169.4,228 171.7,229.8 174.6,230.1 178.1,230 181.8,229.7 185.1,229.6 187.2,229.7 188,229.9 190.9,228.5 188.7,226.1 185.4,225.1 181.6,225 177.7,225.2 174.3,225.7 172.3,226 172.3,226.6ZM177.7,245.5 180.1,247.3 182.9,247.6 186.4,247.5 190.1,247.2 193.4,247.1 195.6,247.2 196.4,247.4 199.3,246 197.1,243.6 193.8,242.6 189.9,242.5 186,242.7 182.7,243.2 180.6,243.5 180.6,244.1ZM186.1,263 188.4,264.8 191.3,265.1 194.8,265 198.5,264.7 201.8,264.6 203.9,264.7 204.7,264.9 207.6,263.5 205.4,261.1 202.1,260.1 198.3,260 194.3,260.2 191,260.7 188.9,261 189,261.6ZM189.2,184.7 188.8,186.8 191.4,186.9 195.3,187.1 199.6,187.4 203.5,188.1 206,188.9 206.8,189.5 210,189 208.3,185.8 204.8,183.8 200.3,182.7 195.5,182.3 191.3,182.4 188.4,182.9 186,185.2ZM191.2,198.9 190.8,201 193.4,201.1 197.3,201.3 201.6,201.6 205.5,202.3 208,203.1 208.8,203.7 212,203.2 210.3,200 206.8,198 202.3,196.9 197.5,196.5 193.3,196.6 190.4,197.1 188,199.4ZM193.2,213.1 192.8,215.2 195.4,215.3 199.3,215.5 203.6,215.8 207.5,216.5 210,217.3 210.8,217.9 214,217.4 212.3,214.2 208.8,212.2 204.3,211.1 199.5,210.7 195.3,210.8 192.4,211.3 190,213.6ZM195.2,227.3 194.8,229.4 197.4,229.5 201.3,229.7 205.6,230 209.5,230.7 212,231.5 212.8,232.1 216,231.6 214.3,228.4 210.8,226.4 206.3,225.3 201.5,224.9 197.3,225 194.4,225.5 192,227.8ZM197.2,241.5 196.8,243.6 199.4,243.7 203.3,243.9 207.6,244.2 211.5,244.9 214,245.7 214.8,246.3 218,245.8 216.3,242.6 212.8,240.6 208.3,239.5 203.5,239.1 199.3,239.2 196.4,239.7 194,242ZM215.8,195.8 216.9,197.4 218.3,195.9 220.3,193.5 222.6,191.1 224.8,189 226.4,187.9 226.7,187.5 228.4,184.8 225.4,184.1 222.3,185.4 219.3,187.6 216.7,190.5 214.7,193.2 213.6,195.4 214.1,198.5ZM224.3,201 225.4,202.6 226.8,201.1 228.8,198.8 231.1,196.3 233.3,194.3 234.9,193.1 235.2,192.7 236.9,190 233.9,189.4 230.8,190.6 227.8,192.9 225.2,195.7 223.2,198.5 222.1,200.7 222.6,203.7ZM232.8,206.3 233.9,207.9 235.3,206.4 237.3,204 239.6,201.6 241.8,199.5 243.4,198.4 243.7,198 245.4,195.3 242.4,194.6 239.3,195.9 236.3,198.1 233.7,201 231.7,203.7 230.6,205.9 231.1,209ZM241.3,211.5 242.4,213.1 243.8,211.6 245.8,209.3 248.1,206.8 250.3,204.8 251.9,203.6 252.2,203.2 253.9,200.5 250.9,199.9 247.8,201.1 244.8,203.4 242.2,206.2 240.2,209 239.1,211.2 239.6,214.2ZM233.6,251.9 234.5,249.1 234.1,246.9 233.3,243.8 232.6,240.4 232.2,237.3 232.3,235.3 232.4,234.4 230.9,231.6 228.6,233.9 227.8,237.3 227.9,241.1 228.7,245 229.8,248.2 230.8,250.3 232.1,249.1ZM246.1,245.4 247,242.6 246.6,240.4 245.8,237.3 245.1,233.9 244.7,230.8 244.8,228.8 244.9,227.9 243.4,225.1 241.1,227.4 240.3,230.8 240.4,234.6 241.2,238.5 242.3,241.7 243.3,243.8 244.6,242.6ZM225.6,169.5 226.2,168.9 228.2,167.3 231.7,165.6 235.9,164.5 240,164.3 242.9,165 244.4,166.1 247.4,165.1 244.9,161.6 240.5,159.9 235.3,159.8 230,161.2 225.6,163.6 222.8,166.9 222.6,170.6ZM227.6,175.2 228.2,174.5 230.2,172.9 233.7,171.3 237.9,170.2 242,170 244.9,170.6 246.4,171.8 249.4,170.7 246.9,167.3 242.5,165.6 237.3,165.5 232,166.8 227.6,169.3 224.8,172.5 224.6,176.3ZM229.6,180.9 230.2,180.2 232.2,178.6 235.7,176.9 239.9,175.9 244,175.6 246.9,176.3 248.4,177.5 251.4,176.4 248.9,173 244.5,171.2 239.3,171.1 234,172.5 229.6,175 226.8,178.2 226.6,181.9ZM247,134.3 246.5,136.2 249.2,136.4 253,136.7 257.3,137.2 261.1,137.9 263.6,138.8 264.4,139.3 267.6,139 266,135.8 262.6,133.7 258.1,132.5 253.4,131.9 249.1,132 246.2,132.4 243.8,134.6ZM248.4,147.9 247.9,149.8 250.6,150 254.4,150.3 258.7,150.8 262.5,151.5 265,152.4 265.8,152.9 269,152.6 267.4,149.4 264,147.3 259.5,146.1 254.8,145.5 250.5,145.6 247.6,146 245.2,148.2ZM249.8,161.5 249.3,163.4 252,163.6 255.8,163.9 260.1,164.4 263.9,165.1 266.4,166 267.2,166.5 270.4,166.2 268.8,163 265.4,160.9 260.9,159.7 256.2,159.1 251.9,159.2 249,159.6 246.6,161.8ZM251.2,175.1 250.7,177 253.4,177.2 257.2,177.5 261.5,178 265.3,178.7 267.8,179.6 268.6,180.1 271.8,179.8 270.2,176.6 266.8,174.5 262.3,173.3 257.6,172.7 253.3,172.8 250.4,173.2 248,175.4ZM252.6,188.7 252.1,190.6 254.8,190.8 258.6,191.1 262.9,191.6 266.7,192.3 269.2,193.2 270,193.7 273.2,193.4 271.6,190.2 268.2,188.1 263.7,186.9 259,186.3 254.7,186.4 251.8,186.8 249.4,189ZM264,127.8 266.4,129.6 268.6,129.9 271.7,130.2 275.2,130.6 278.2,131.2 280.1,131.9 280.8,132.3 284,131.9 282.6,128.9 279.7,127.1 276,125.9 272.1,125.5 268.7,125.4 266.4,125.7 267.2,127.3ZM266,141.5 268.4,143.3 270.6,143.6 273.7,143.9 277.2,144.3 280.2,144.9 282.1,145.6 282.8,146 286,145.5 284.6,142.6 281.7,140.7 278,139.6 274.1,139.1 270.7,139.1 268.4,139.4 269.2,141ZM268,155.1 270.4,156.9 272.6,157.2 275.7,157.5 279.2,158 282.2,158.6 284.1,159.3 284.8,159.7 288,159.2 286.6,156.3 283.7,154.4 280,153.3 276.1,152.8 272.7,152.8 270.4,153 271.2,154.7ZM128.6,134.2 131.7,134.4 133.9,133.4 137.1,131.8 140.7,130.3 144,129.2 146.3,128.8 147.1,128.8 149.7,126.8 146.9,124.9 143.1,124.8 139,125.8 135,127.6 131.7,129.5 129.6,131.1 131.2,132.2ZM137,145.2 140,145.4 142.3,144.4 145.4,142.8 149,141.3 152.3,140.2 154.6,139.8 155.5,139.8 158,137.8 155.2,135.9 151.5,135.8 147.3,136.8 143.3,138.6 140.1,140.5 138,142.1 139.5,143.2ZM145.3,156.2 148.4,156.4 150.6,155.4 153.8,153.8 157.3,152.3 160.6,151.2 162.9,150.8 163.8,150.8 166.4,148.8 163.5,146.9 159.8,146.8 155.7,147.8 151.7,149.6 148.4,151.5 146.3,153.1 147.9,154.2ZM164.4,130.8 164.6,132.7 166.8,132.2 170.1,131.3 173.9,130.6 177.3,130.3 179.6,130.5 180.6,130.8 183.5,129.6 181.2,127 177.6,125.9 173.3,125.9 169,126.7 165.3,127.9 162.9,129.2 161.5,132.1ZM169.4,142.5 169.6,144.4 171.8,143.8 175.1,143 178.9,142.3 182.3,142 184.6,142.2 185.6,142.5 188.5,141.2 186.2,138.6 182.6,137.6 178.3,137.6 174,138.4 170.3,139.6 167.9,140.9 166.5,143.8ZM174.4,154.2 174.6,156.1 176.8,155.5 180.1,154.7 183.9,154 187.3,153.7 189.6,153.9 190.6,154.2 193.5,152.9 191.2,150.3 187.6,149.2 183.3,149.3 179,150 175.3,151.3 172.9,152.6 171.5,155.4ZM184.9,138.2 188,138.3 190.3,137.2 193.4,135.5 196.9,133.8 200.2,132.5 202.6,131.9 203.7,132 206.1,129.8 203,128.1 199.2,128.1 195.1,129.4 191.1,131.4 187.9,133.4 185.9,135 187.3,136ZM195.9,150.2 199,150.3 201.3,149.2 204.4,147.5 207.9,145.8 211.2,144.5 213.6,143.9 214.7,144 217.1,141.8 214,140.1 210.2,140.1 206.1,141.4 202.1,143.4 198.9,145.4 196.9,147 198.3,148ZM223,48.8 226,49.5 228.4,48.7 231.7,47.6 235.5,46.5 238.9,45.8 241.3,45.7 242.3,45.9 245,44.2 242.4,41.9 238.6,41.4 234.4,41.9 230.2,43.1 226.7,44.6 224.4,45.9 225.7,47.1ZM231,61.8 234,62.5 236.4,61.7 239.7,60.6 243.5,59.5 246.9,58.8 249.3,58.7 250.3,58.9 253,57.2 250.4,54.9 246.6,54.4 242.4,54.9 238.2,56.1 234.7,57.6 232.4,58.9 233.7,60.1ZM297,75.6 299.9,74.9 301.5,73.5 303.8,71.4 306.4,69.1 308.8,67.3 310.6,66.3 311.2,66 313,63.4 310,62.5 306.7,63.4 303.4,65.4 300.5,68 298.2,70.5 296.9,72.5 298.8,73ZM307,82.6 309.9,81.9 311.5,80.5 313.8,78.4 316.4,76.1 318.8,74.3 320.6,73.3 321.2,73 323,70.4 320,69.5 316.7,70.4 313.4,72.4 310.5,75 308.2,77.5 306.9,79.5 308.8,80Z"/><path id="pC" d="M139.9,13.9 135.5,14.9 129.6,15.2 123.2,15 117.5,14.4 113.6,14M134.5,33.3 130.1,34.3 124.2,34.6 117.8,34.4 112.1,33.8 108.2,33.4M129.1,52.7 124.7,53.7 118.8,54 112.4,53.8 106.7,53.2 102.8,52.8M123.7,72.1 119.3,73.1 113.4,73.4 107,73.2 101.3,72.6 97.4,72.2M118.3,91.5 113.9,92.5 108,92.8 101.6,92.6 95.9,92 92,91.6M176.9,69.3 174.2,68.9 171.1,67.5 168,65.6 165.4,63.6 163.8,62M169.4,77.1 166.7,76.6 163.6,75.2 160.5,73.3 157.9,71.3 156.3,69.8M161.9,84.8 159.2,84.4 156.1,83 153,81.1 150.4,79.1 148.8,77.5M154.4,92.6 151.7,92.1 148.6,90.7 145.5,88.8 142.9,86.8 141.3,85.3M153.1,95.8 150.6,97.3 147,98.6 143.1,99.4 139.5,99.9 137,100M153.3,106.5 150.9,108.1 147.3,109.3 143.3,110.2 139.7,110.7 137.2,110.8M153.6,117.3 151.1,118.8 147.5,120.1 143.6,120.9 140,121.4 137.5,121.5M153.8,128 151.4,129.6 147.8,130.8 143.8,131.7 140.2,132.2 137.7,132.3M183,99.9 180,101.7 175.9,102.8 171.4,103.1 167.4,102.6 164.7,101.6M182.2,108.9 179.3,110.7 175.2,111.8 170.7,112.1 166.7,111.6 164,110.6M181.5,117.9 178.5,119.7 174.4,120.8 169.9,121.1 165.9,120.6 163.2,119.6M180.7,126.9 177.8,128.7 173.7,129.8 169.2,130.1 165.2,129.6 162.5,128.6M221,122.6 218.2,121.6 215,119.5 211.8,116.9 209.2,114.4 207.6,112.5M211,130.3 208.2,129.3 205,127.2 201.8,124.6 199.2,122 197.6,120.1M201,137.9 198.2,136.9 195,134.9 191.8,132.2 189.2,129.7 187.6,127.8M217.9,39.1 215.2,41 211.3,42.6 206.9,43.8 203,44.6 200.2,44.9M218.7,52.5 216,54.4 212.1,56 207.7,57.2 203.8,58 201,58.3M219.5,65.9 216.8,67.8 212.9,69.4 208.5,70.6 204.6,71.4 201.8,71.7M220.3,79.3 217.6,81.2 213.7,82.8 209.3,84 205.4,84.8 202.6,85.1M221.1,92.7 218.4,94.6 214.5,96.2 210.1,97.4 206.2,98.2 203.4,98.5M211.3,28.6 212.4,30.6 213.3,33.5 214.2,36.6 214.8,39.4 215.4,41.4M224.3,29.1 225.4,31.1 226.3,34 227.2,37.1 227.8,39.9 228.4,41.9M237.3,29.6 238.4,31.6 239.3,34.5 240.2,37.6 240.8,40.4 241.4,42.4M250.3,30.1 251.4,32.1 252.3,35 253.2,38.1 253.8,40.9 254.4,42.9M273,49.2 272.8,52.1 271.9,55.9 270.4,59.8 269,63.2 268,65.6M285.7,58.3 285.5,61.3 284.5,65 283.1,68.9 281.6,72.4 280.7,74.7M298.3,67.5 298.2,70.5 297.2,74.2 295.7,78.1 294.3,81.5 293.3,83.9M311,76.7 310.8,79.6 309.9,83.4 308.4,87.3 307,90.7 306,93.1M323.7,85.8 323.5,88.8 322.5,92.5 321.1,96.4 319.6,99.9 318.7,102.2M336.3,95 336.2,98 335.2,101.7 333.7,105.6 332.3,109 331.3,111.4M256,60.4 254.3,62.2 251.7,63.9 248.8,65.2 246.1,66.3 244.2,66.9M258,73.1 256.3,74.9 253.7,76.5 250.8,77.9 248.1,78.9 246.2,79.6M260,85.8 258.3,87.5 255.7,89.2 252.8,90.6 250.1,91.6 248.2,92.3M258.2,78.8 259.7,81.2 260.6,84.6 260.9,88.2 260.8,91.4 260.3,93.6M269.4,80.3 270.9,82.7 271.9,86.1 272.2,89.7 272,92.9 271.5,95.1M280.7,81.8 282.2,84.2 283.1,87.6 283.4,91.2 283.3,94.4 282.8,96.6M291.9,83.3 293.4,85.7 294.4,89.1 294.7,92.7 294.5,95.9 294,98.1M233.6,74.2 232.9,76.9 231.2,79.9 229,82.9 226.8,85.4 225.3,87.1M242.6,86.2 241.9,88.9 240.2,91.9 238,94.9 235.8,97.4 234.3,99.1M287.4,97.9 288.3,100.5 288.6,103.9 288.2,107.5 287.5,110.7 286.7,112.8M297.2,100.9 298.1,103.5 298.3,106.9 298,110.5 297.2,113.7 296.4,115.8M306.9,103.9 307.8,106.5 308.1,109.9 307.7,113.5 307,116.7 306.2,118.8M316.7,106.9 317.6,109.5 317.8,112.9 317.5,116.5 316.7,119.7 315.9,121.8M256.3,107.5 256.3,110.4 255.4,114.1 254,118 252.5,121.3 251.2,123.4M266,113.5 266,116.4 265.1,120.1 263.7,124 262.1,127.3 260.9,129.4M275.6,119.5 275.6,122.4 274.8,126.1 273.3,130 271.8,133.3 270.5,135.4M277.2,117.1 275.4,119.5 272.4,121.8 268.9,124 265.6,125.6 263.3,126.6M281.2,128.8 279.4,131.1 276.4,133.5 272.9,135.6 269.6,137.3 267.3,138.2M285.2,140.5 283.4,142.8 280.4,145.2 276.9,147.3 273.6,148.9 271.3,149.9M225.6,111.9 223.5,114 220.4,116.1 216.7,117.8 213.3,119.1 210.9,119.8M228.3,122.2 226.3,124.3 223.1,126.3 219.4,128.1 216,129.4 213.6,130M231.1,132.4 229,134.5 225.9,136.6 222.2,138.3 218.8,139.6 216.4,140.3M233.8,142.7 231.8,144.8 228.6,146.8 224.9,148.6 221.5,149.9 219.1,150.5M156.2,161.1 154.9,163.6 152.7,166.4 150.1,169.2 147.7,171.6 146.1,173.6M164.5,178.6 163.2,181.1 161,183.9 158.4,186.7 156,189.1 154.5,191.1M172.9,196.1 171.6,198.6 169.3,201.4 166.7,204.2 164.4,206.6 162.8,208.6M181.2,213.6 179.9,216.1 177.7,218.9 175.1,221.7 172.7,224.1 171.1,226.1M189.5,231.1 188.2,233.6 186,236.4 183.4,239.2 181,241.6 179.5,243.6M197.9,248.6 196.6,251.1 194.3,253.9 191.7,256.7 189.4,259.1 187.8,261.1M205.7,177.2 203.2,179.4 199.4,181.4 195.2,183 191.3,184.2 188.6,184.8M207.7,191.4 205.2,193.6 201.4,195.6 197.2,197.2 193.3,198.4 190.6,199M209.7,205.6 207.2,207.8 203.4,209.8 199.2,211.4 195.3,212.6 192.6,213.2M211.7,219.8 209.2,222 205.4,224 201.2,225.6 197.3,226.8 194.6,227.4M213.7,234 211.2,236.2 207.4,238.2 203.2,239.8 199.3,241 196.6,241.6M219.9,182.3 219.9,184.9 219.2,188.2 217.9,191.6 216.5,194.6 215.4,196.5M228.4,187.6 228.4,190.2 227.7,193.5 226.4,196.9 225,199.8 223.9,201.7M236.9,192.8 236.9,195.4 236.2,198.7 234.9,202.1 233.5,205.1 232.4,207M245.4,198.1 245.4,200.7 244.7,204 243.4,207.4 242,210.3 240.9,212.2M221.2,239.4 223.6,240.6 226.3,242.8 228.9,245.5 230.9,248.1 232.3,249.9M233.7,232.9 236.1,234.1 238.8,236.3 241.4,239 243.4,241.6 244.8,243.4M243.8,162.9 241.7,166.2 238,169 233.5,171.1 229.2,171.9 225.8,171.6M245.8,168.6 243.7,171.8 240,174.7 235.5,176.7 231.2,177.6 227.8,177.2M247.8,174.3 245.7,177.5 242,180.4 237.5,182.4 233.2,183.3 229.8,182.9M263.8,127.6 261.2,129.7 257.4,131.5 253.1,132.9 249.1,133.9 246.4,134.3M265.2,141.2 262.6,143.3 258.8,145.1 254.5,146.5 250.5,147.5 247.8,147.9M266.6,154.8 264,156.9 260.2,158.7 255.9,160.1 251.9,161.1 249.2,161.5M268,168.4 265.4,170.5 261.6,172.3 257.3,173.7 253.3,174.7 250.6,175.1M269.4,182 266.8,184.1 263,185.9 258.7,187.3 254.7,188.3 252,188.7M279.9,120.3 277.9,122.2 274.9,124 271.6,125.5 268.5,126.6 266.3,127.3M281.9,134 279.9,135.9 276.9,137.7 273.6,139.2 270.5,140.3 268.3,140.9M283.9,147.6 281.9,149.6 278.9,151.4 275.6,152.9 272.5,153.9 270.3,154.6M140.5,118.9 139.6,121.7 137.5,125 134.9,128.2 132.4,130.9 130.6,132.6M148.9,129.9 147.9,132.7 145.9,136 143.3,139.2 140.7,141.9 138.9,143.6M157.2,140.9 156.2,143.7 154.2,147 151.6,150.2 149.1,152.9 147.2,154.6M177,120.7 175.4,123.3 172.6,126 169.3,128.4 166.1,130.2 163.9,131.2M182,132.4 180.4,135 177.6,137.6 174.3,140 171.1,141.9 168.9,142.9M187,144 185.4,146.6 182.6,149.3 179.3,151.7 176.1,153.5 173.9,154.6M194.6,121 194.1,124.1 192.4,127.7 190.3,131.3 188.1,134.3 186.6,136.3M205.6,133 205.1,136.1 203.4,139.7 201.3,143.3 199.1,146.3 197.6,148.3M235.9,34.2 234.8,37 232.5,40.2 229.6,43.2 226.9,45.7 225,47.3M243.9,47.2 242.8,50 240.5,53.2 237.6,56.2 234.9,58.7 233,60.3M303,59.3 303,62 302.1,65.3 300.8,68.7 299.4,71.7 298.3,73.6M313,66.3 313,69 312.1,72.3 310.8,75.7 309.4,78.7 308.3,80.6"/><g id="pL"><path d="M100,110C101.3,112 104.7,119.7 108,122C111.3,124.3 117,124.7 120,124C123,123.3 124.7,121.3 126,118C127.3,114.7 127.7,106.3 128,104"/><path d="M127,13C127.2,11.7 126.8,6.7 128,5C129.2,3.3 132.2,2.5 134,3C135.8,3.5 138.8,5.8 139,8C139.2,10.2 135.7,14.7 135,16"/><path d="M141,96C140.2,93.3 135.8,86 136,80C136.2,74 140,65.8 142,60C144,54.2 147,47.5 148,45"/><path d="M143,44C144.2,42.3 147.2,35.8 150,34C152.8,32.2 156.8,32 160,33C163.2,34 167.2,37.2 169,40C170.8,42.8 171.3,46.3 171,50C170.7,53.7 167.7,60 167,62"/><path d="M146,140C146.7,142.5 149.2,150.5 150,155C150.8,159.5 150.8,165 151,167"/><path d="M171,135C172.5,135.8 177.7,139.2 180,140C182.3,140.8 184.2,140 185,140"/><path d="M213,108C214.5,108.7 221.2,110.8 222,112C222.8,113.2 218.7,114.5 218,115"/><path d="M265,37C265.8,38.5 269.2,42.7 270,46C270.8,49.3 270,55.2 270,57"/><path d="M346,112C346.3,113 348.5,116.3 348,118C347.5,119.7 345.2,122 343,122C340.8,122 336.3,118.7 335,118"/><path d="M320,118C321.7,119.7 328.3,125 330,128C331.7,131 330.7,134 330,136C329.3,138 326.7,139.3 326,140"/><path d="M201,272C201.8,270.3 205,265.5 206,262C207,258.5 206.8,252.8 207,251"/><path d="M251,210C251.5,212 254,218.3 254,222C254,225.7 251.5,230.3 251,232"/><path d="M226,245C224.7,245.8 220.7,249.5 218,250C215.3,250.5 211.3,248.3 210,248"/><path d="M128,104C130,102.7 138,97.3 140,96"/><path d="M205,95C209.2,94.3 222.5,91.5 230,91C237.5,90.5 245.3,92.8 250,92C254.7,91.2 256.7,87 258,86"/><path d="M140,62C139.2,66.7 135.3,80.3 135,90C134.7,99.7 136.8,110 138,120C139.2,130 141.3,145 142,150"/></g>
<g id="prot" stroke-linecap="round" stroke-linejoin="round">
<use href="#pL" fill="none" stroke="#05442f" stroke-width="3"/>
<use href="#pL" fill="none" stroke="#0c8662" stroke-width="1.4"/>
<use href="#pB" fill="#0a7053" stroke="#05442f" stroke-width="1"/>
<use href="#pF" fill="#0c8662" stroke="#05442f" stroke-width="1"/>
<use href="#pC" fill="none" stroke="#34dcaa" stroke-width="1.3" opacity="0.55"/>
</g></defs>
<use href="#prot"/><use href="#prot" x="993.6"/>
<line x1="336.3" y1="92.4" x2="359" y2="83" stroke="#00956b" stroke-width="2.1"/>
<line x1="377.9" y1="85.3" x2="398.2" y2="99.4" stroke="#00956b" stroke-width="2.1"/>
<line x1="398.2" y1="99.4" x2="430.4" y2="89.2" stroke="#00956b" stroke-width="2.1"/>
<line x1="430.4" y1="89.2" x2="445.3" y2="107.3" stroke="#00956b" stroke-width="2.1"/>
<line x1="429" y1="88.5" x2="436" y2="65" stroke="#00956b" stroke-width="2.1"/>
<line x1="433.5" y1="90" x2="441" y2="67" stroke="#00956b" stroke-width="2.1"/>
<line x1="398.2" y1="99.4" x2="398.2" y2="134.7" stroke="#00956b" stroke-width="2.1"/>
<line x1="398.2" y1="134.7" x2="430.4" y2="144.9" stroke="#00956b" stroke-width="2.1"/>
<line x1="430.4" y1="144.9" x2="445.3" y2="126.9" stroke="#00956b" stroke-width="2.1"/>
<line x1="429" y1="145.5" x2="436.5" y2="168" stroke="#00956b" stroke-width="2.1"/>
<line x1="433.5" y1="144" x2="441" y2="167" stroke="#00956b" stroke-width="2.1"/>
<line x1="461.8" y1="117.5" x2="486.9" y2="117.5" stroke="#00956b" stroke-width="2.1"/>
<line x1="486.9" y1="117.5" x2="504.9" y2="86.9" stroke="#00956b" stroke-width="2.1"/>
<line x1="504.9" y1="86.9" x2="530.8" y2="86.9" stroke="#00956b" stroke-width="2.1"/>
<line x1="545.7" y1="77.5" x2="557.5" y2="57.1" stroke="#00956b" stroke-width="2.1"/>
<line x1="557.5" y1="57.1" x2="544" y2="34.1" stroke="#00956b" stroke-width="2.1"/>
<line x1="561" y1="56" x2="547.5" y2="33" stroke="#00956b" stroke-width="2.1"/>
<line x1="557.5" y1="57.1" x2="593.6" y2="57.1" stroke="#00956b" stroke-width="2.1"/>
<line x1="593.6" y1="57.1" x2="610.8" y2="25.7" stroke="#00956b" stroke-width="2.1"/>
<line x1="593.6" y1="57.1" x2="628.9" y2="57.1" stroke="#00956b" stroke-width="2.1"/>
<line x1="593.6" y1="57.1" x2="605.3" y2="76.7" stroke="#00956b" stroke-width="2.1"/>
<text x="369.2" y="86" font-size="19" fill="#00956b" text-anchor="middle" stroke="#00956b" stroke-width="0.4">S</text>
<text x="442.2" y="62.3" font-size="19" fill="#00956b" text-anchor="middle" stroke="#00956b" stroke-width="0.4">O</text>
<text x="442.2" y="186" font-size="19" fill="#00956b" text-anchor="middle" stroke="#00956b" stroke-width="0.4">O</text>
<text x="451.9" y="124.3" font-size="19" fill="#00956b" text-anchor="middle" stroke="#00956b" stroke-width="0.4">N</text>
<text x="540.2" y="93.7" font-size="19" fill="#00956b" text-anchor="middle" stroke="#00956b" stroke-width="0.4">O</text>
<text x="540.2" y="33.3" font-size="19" fill="#00956b" text-anchor="middle" stroke="#00956b" stroke-width="0.4">O</text>
<text x="605.5" y="94" font-size="19" fill="#00956b" stroke="#00956b" stroke-width="0.4">Br</text>
<path d="M851,58 L881.1,75.4 L881.1,110.1 L851,127.5 L820.9,110.1 L820.9,75.4Z" fill="none" stroke="#1570b8" stroke-width="2.2" stroke-linejoin="round"/>
<line x1="854.5" y1="67.7" x2="871" y2="77.2" stroke="#1570b8" stroke-width="2.2"/>
<line x1="871" y1="108.3" x2="854.5" y2="117.8" stroke="#1570b8" stroke-width="2.2"/>
<line x1="827.5" y1="102.2" x2="827.5" y2="83.3" stroke="#1570b8" stroke-width="2.2"/>
<line x1="851" y1="58" x2="851" y2="22.7" stroke="#1570b8" stroke-width="2.2"/>
<line x1="851" y1="22.7" x2="881.4" y2="5" stroke="#1570b8" stroke-width="2.2"/>
<line x1="856.8" y1="26.3" x2="884.8" y2="10.5" stroke="#1570b8" stroke-width="2.2"/>
<line x1="720.4" y1="151.6" x2="976" y2="151.6" stroke="#1570b8" stroke-width="3"/>
<path d="M985.5,151.6 L971,145.5 L971,157.7Z" fill="#1570b8"/>
<text x="829.5" y="193" font-size="28" fill="#1570b8">Cu<tspan font-size="18" dy="-12">II</tspan></text>
<text x="788.5" y="227.5" font-size="28.6" fill="#1570b8">Me<tspan font-size="20" dy="7">6</tspan><tspan dy="-7">TREN</tspan></text>
<line x1="1340" y1="98.2" x2="1364.3" y2="88.1" stroke="#00956b" stroke-width="2.1"/>
<line x1="1382.5" y1="91.1" x2="1403.8" y2="104.3" stroke="#00956b" stroke-width="2.1"/>
<line x1="1403.8" y1="104.3" x2="1435.1" y2="95.1" stroke="#00956b" stroke-width="2.1"/>
<line x1="1435.1" y1="95.1" x2="1450.3" y2="112.3" stroke="#00956b" stroke-width="2.1"/>
<line x1="1433" y1="95" x2="1440.5" y2="71" stroke="#00956b" stroke-width="2.1"/>
<line x1="1437.5" y1="96" x2="1445" y2="73" stroke="#00956b" stroke-width="2.1"/>
<line x1="1403.8" y1="104.3" x2="1403.8" y2="139.7" stroke="#00956b" stroke-width="2.1"/>
<line x1="1403.8" y1="139.7" x2="1435.1" y2="150.8" stroke="#00956b" stroke-width="2.1"/>
<line x1="1435.1" y1="150.8" x2="1450.3" y2="132.6" stroke="#00956b" stroke-width="2.1"/>
<line x1="1433" y1="151" x2="1440" y2="175" stroke="#00956b" stroke-width="2.1"/>
<line x1="1437.5" y1="150" x2="1445" y2="173" stroke="#00956b" stroke-width="2.1"/>
<line x1="1466.5" y1="122.5" x2="1492.8" y2="122.5" stroke="#00956b" stroke-width="2.1"/>
<line x1="1492.8" y1="122.5" x2="1511" y2="92.1" stroke="#00956b" stroke-width="2.1"/>
<line x1="1511" y1="92.1" x2="1535.3" y2="92.1" stroke="#00956b" stroke-width="2.1"/>
<line x1="1551.5" y1="101.2" x2="1563.7" y2="122.5" stroke="#00956b" stroke-width="2.1"/>
<line x1="1563.7" y1="122.5" x2="1549.5" y2="145" stroke="#00956b" stroke-width="2.1"/>
<line x1="1567.5" y1="125.5" x2="1554" y2="147" stroke="#00956b" stroke-width="2.1"/>
<line x1="1563.7" y1="122.5" x2="1599.1" y2="122.5" stroke="#00956b" stroke-width="2.1"/>
<line x1="1599.1" y1="122.5" x2="1590" y2="156.9" stroke="#00956b" stroke-width="2.1"/>
<line x1="1599.1" y1="122.5" x2="1616.3" y2="153.8" stroke="#00956b" stroke-width="2.1"/>
<line x1="1599.1" y1="122.5" x2="1610" y2="103.5" stroke="#00956b" stroke-width="2.1"/>
<line x1="1610" y1="103.5" x2="1616.3" y2="92.1" stroke="#1570b8" stroke-width="2.1"/>
<line x1="1616.3" y1="92.1" x2="1651.7" y2="92.1" stroke="#1570b8" stroke-width="2.1"/>
<line x1="1651.7" y1="92.1" x2="1669" y2="62.8" stroke="#1570b8" stroke-width="2.1"/>
<line x1="1651.7" y1="92.1" x2="1693.2" y2="110.3" stroke="#1570b8" stroke-width="2.1"/>
<path d="M1611,77 L1607.3,77 L1607.3,126.5 L1611,126.5 M1671.5,77 L1675.2,77 L1675.2,126.5 L1671.5,126.5" fill="none" stroke="#1570b8" stroke-width="2.1"/>
<text x="1679.5" y="135.8" font-size="17.5" font-style="italic" fill="#1570b8">n</text>
<path d="M1669,61.7 L1704.4,61.7 L1722.6,31.4 L1704.4,0.5 L1669,0.5 L1651.7,31.4Z" fill="none" stroke="#1570b8" stroke-width="2.1" stroke-linejoin="round"/>
<line x1="1673" y1="55" x2="1700.5" y2="55" stroke="#1570b8" stroke-width="2.1"/>
<line x1="1658.5" y1="31.4" x2="1672" y2="7" stroke="#1570b8" stroke-width="2.1"/>
<line x1="1715.6" y1="31.4" x2="1702" y2="7" stroke="#1570b8" stroke-width="2.1"/>
<text x="1374.4" y="90.8" font-size="19" fill="#00956b" text-anchor="middle" stroke="#00956b" stroke-width="0.4">S</text>
<text x="1447.3" y="67.5" font-size="19" fill="#00956b" text-anchor="middle" stroke="#00956b" stroke-width="0.4">O</text>
<text x="1447.3" y="190.8" font-size="19" fill="#00956b" text-anchor="middle" stroke="#00956b" stroke-width="0.4">O</text>
<text x="1457.6" y="129.3" font-size="19" fill="#00956b" text-anchor="middle" stroke="#00956b" stroke-width="0.4">N</text>
<text x="1545.5" y="98.9" font-size="19" fill="#00956b" text-anchor="middle" stroke="#00956b" stroke-width="0.4">O</text>
<text x="1545.5" y="159.5" font-size="19" fill="#00956b" text-anchor="middle" stroke="#00956b" stroke-width="0.4">O</text>
<text x="1697.3" y="122" font-size="19" fill="#00956b" stroke="#00956b" stroke-width="0.4">Br</text>
<g fill="none" stroke-width="2.4" stroke-linejoin="round">
<path d="M116.6,821.5C131.8,821.4 183.2,821.3 208.3,821.1C233.4,821 254.7,821.2 267.3,820.5C279.9,819.7 279.1,818.8 283.7,816.6C288.3,814.3 291.9,811.1 295.2,806.7C298.4,802.4 300.6,798.5 303.4,790.3C306.1,782.1 308.8,770.1 311.6,757.6C314.3,745 317.3,730.3 319.7,715C322.2,699.7 324.4,682.2 326.3,665.8C328.2,649.4 329.9,635.8 331.2,616.6C332.6,597.5 333.5,572.9 334.5,551.1C335.5,529.2 336.3,503 337.1,485.5C337.9,468.1 338.6,455.5 339.4,446.2C340.2,436.9 341,432 342,429.8C343,427.6 344.2,429.3 345.3,433.1C346.4,436.9 347.5,441.3 348.6,452.8C349.7,464.2 350.7,482.8 351.9,501.9C353.1,521 354.3,548.4 355.8,567.5C357.3,586.6 359.1,604.1 360.7,616.6C362.4,629.2 363.7,635.8 365.6,642.9C367.5,650 370,653.2 372.2,659.2C374.4,665.3 376,670.7 378.7,678.9C381.5,687.1 385.3,699.1 388.6,708.4C391.8,717.7 395.1,725.9 398.4,734.6C401.7,743.4 404.4,753.2 408.2,760.8C412.1,768.5 417,775.3 421.3,780.5C425.7,785.7 429,789.2 434.5,792C439.9,794.7 445.1,795.4 454.1,796.9C463.1,798.4 482.8,800.2 488.5,800.8" stroke="#c9c9c9"/>
<path d="M270.6,820.5C274.4,819.9 287,819.2 293.5,817.2C300.1,815.2 305.5,812.8 309.9,808.4C314.3,803.9 317,798.8 319.7,790.3C322.5,781.9 324.6,770.1 326.3,757.6C328,745 329.1,730.3 330.2,715C331.3,699.7 331.9,687.6 332.9,665.8C333.8,643.9 335,608.4 336.1,583.9C337.2,559.3 338.2,537.4 339.4,518.3C340.6,499.2 342.1,482.3 343.3,469.2C344.5,456.1 345.5,446.7 346.6,439.7C347.8,432.7 349.1,428.3 350.2,427.2C351.3,426.1 352.1,427.8 353.2,433.1C354.2,438.5 355.4,445.1 356.5,459.3C357.5,473.5 358.5,497.6 359.7,518.3C361,539.1 362.5,566.4 364,583.9C365.5,601.3 367.5,613.9 368.9,623.2C370.3,632.5 370.5,633.6 372.2,639.6C373.8,645.6 376,650 378.7,659.2C381.5,668.5 385.3,683.8 388.6,695.3C391.8,706.8 395.1,717.7 398.4,728.1C401.7,738.4 405,749.4 408.2,757.6C411.5,765.8 414.5,771.8 418.1,777.2C421.6,782.7 425.2,787.1 429.5,790.3C433.9,793.6 438.5,795.2 444.3,796.9C450,798.5 456.6,799.1 463.9,800.2C471.3,801.3 484.4,802.9 488.5,803.4" stroke="#0f9872"/>
<path d="M116.6,823.1C128,823 171.2,823 185.4,822.5C199.6,821.9 196.8,821.6 201.8,819.8C206.7,818 210.5,816 214.9,811.6C219.2,807.3 223.6,802.6 228,793.6C232.4,784.6 237.3,770.7 241.1,757.6C244.9,744.5 247.6,733 250.9,715C254.2,696.9 257.8,674 260.8,649.4C263.8,624.8 266.5,592.1 268.9,567.5C271.4,542.9 273.6,519.4 275.5,501.9C277.4,484.5 278.9,472.2 280.4,462.6C281.9,453 283.1,448.3 284.4,444.6C285.6,440.9 286.7,440.3 288,440.3C289.2,440.3 290.4,440.3 291.9,444.6C293.4,448.8 294.9,455.2 296.8,465.9C298.7,476.5 301.2,495.4 303.4,508.5C305.5,521.6 307.2,533.1 309.9,544.5C312.6,556 316.5,565.3 319.7,577.3C323,589.3 326.3,603.5 329.6,616.6C332.9,629.7 336.1,642.9 339.4,656C342.7,669.1 346,683.3 349.2,695.3C352.5,707.3 355.3,717.7 359.1,728.1C362.9,738.4 367.3,749.4 372.2,757.6C377.1,765.8 383.1,771.8 388.6,777.2C394,782.7 398.9,786.5 405,790.3C411,794.2 416.4,797.7 424.6,800.2C432.8,802.6 443.5,803.7 454.1,805.1C464.8,806.4 482.8,807.8 488.5,808.4" stroke="#848484"/>
<path d="M116.6,821.5C126.4,821.3 163.5,821.2 175.5,820.5C187.6,819.8 184.8,819 188.7,817.2C192.5,815.5 195.2,813.9 198.5,810C201.8,806.1 205,801.3 208.3,793.6C211.6,786 214.9,777.2 218.2,764.1C221.4,751 224.7,733 228,715C231.3,696.9 234.5,677.8 237.8,656C241.1,634.1 244.6,606.8 247.6,583.9C250.7,560.9 253.4,537.4 255.8,518.3C258.3,499.2 260.5,481.7 262.4,469.2C264.3,456.6 265.7,448.7 267.3,442.9C268.9,437.2 270.9,435.2 272.2,434.4C273.6,433.6 274.1,434.4 275.5,438C276.9,441.6 278.5,445.4 280.4,456.1C282.3,466.7 284.8,483.4 287,501.9C289.2,520.5 291.3,548.4 293.5,567.5C295.7,586.6 297.9,600.3 300.1,616.6C302.3,633 304.5,652.1 306.6,665.8C308.8,679.5 311,689.3 313.2,698.6C315.4,707.9 317.6,715 319.7,721.5C321.9,728.1 323.6,732.4 326.3,737.9C329,743.4 332.9,749.9 336.1,754.3C339.4,758.7 342.1,760.8 346,764.1C349.8,767.4 354.7,770.7 359.1,773.9C363.4,777.2 367.3,780.5 372.2,783.8C377.1,787.1 383.1,791 388.6,793.6C394,796.2 396.8,798 405,799.5C413.1,801 423.8,801.7 437.7,802.8C451.7,803.9 480.1,805.5 488.5,806.1" stroke="#2eaae3"/>
<path d="M116.6,825.7C128,825.6 172.3,825.8 185.4,825.1C198.5,824.4 191.9,824 195.2,821.5C198.5,819 201.8,815.7 205,810C208.3,804.3 211.6,797.4 214.9,787.1C218.2,776.7 221.4,765.2 224.7,747.7C228,730.3 231.3,706.2 234.5,682.2C237.8,658.1 241.4,628.1 244.4,603.5C247.4,578.9 250.1,554.4 252.6,534.7C255,515 257.2,499.2 259.1,485.5C261,471.9 262.4,460.5 264,452.8C265.7,445 267.5,440.9 268.9,439C270.4,437.1 271.5,438.5 272.9,441.3C274.2,444.1 275.3,447 277.1,456.1C278.9,465.1 281.2,478.4 283.7,495.4C286.2,512.3 289.2,537.4 291.9,557.6C294.6,577.9 297.4,597.5 300.1,616.6C302.8,635.8 305.5,657.1 308.3,672.4C311,687.6 313.5,697.5 316.5,708.4C319.5,719.3 323,729.7 326.3,737.9C329.6,746.1 332.9,752.9 336.1,757.6C339.4,762.2 342.7,764 346,765.8C349.2,767.5 352.8,767.7 355.8,768C358.8,768.4 361.3,767.3 364,768C366.7,768.8 369.7,770.2 372.2,772.3C374.6,774.4 376.6,777.5 378.7,780.5C380.9,783.5 382.6,787.1 385.3,790.3C388,793.6 390.8,797.4 395.1,800.2C399.5,802.9 404.4,805.2 411.5,806.7C418.6,808.2 424.9,808.5 437.7,809.3C450.6,810.2 480.1,811.3 488.5,811.6" stroke="#1a70ad"/>
</g>
<g fill="none" stroke-width="2.4" stroke-linejoin="round">
<path d="M739.7,819.1C749.3,818.8 782.6,819.1 797.4,817.5C812.2,815.9 820.3,811.8 828.6,809.7C836.9,807.6 842.1,806 847.3,805C852.5,804.1 855.1,804 859.8,804.1C864.5,804.2 869.2,805 875.4,805.6C881.6,806.3 890.5,807.3 897.2,808.1C904,809 909.7,810.2 916,810.6C922.2,811.1 929.5,811.3 934.7,810.6C939.9,810 944,808.6 947.1,806.6C950.3,804.6 951.3,803.7 953.4,798.8C955.5,793.8 957.5,787.3 959.6,776.9C961.7,766.5 963.8,753.5 965.9,736.4C967.9,719.2 970,697.4 972.1,674C974.2,650.6 976.3,622 978.3,596C980.4,570 982.9,537.2 984.6,518C986.3,498.8 987.3,488.6 988.3,480.6C989.4,472.5 990,470.7 990.8,469.6C991.7,468.6 992.3,468.9 993.3,474.3C994.4,479.8 995.7,488.4 997.1,502.4C998.5,516.4 1000.2,539.8 1001.7,558.6C1003.3,577.3 1004.6,598.1 1006.4,614.7C1008.2,631.3 1010.6,646.4 1012.7,658.4C1014.7,670.3 1016.3,676.1 1018.9,686.5C1021.5,696.9 1025.1,710.4 1028.3,720.8C1031.4,731.2 1034,740 1037.6,748.9C1041.3,757.7 1045.4,767.1 1050.1,773.8C1054.8,780.6 1060,785.3 1065.7,789.4C1071.4,793.6 1076.6,796.4 1084.4,798.8C1092.2,801.1 1107.8,802.7 1112.5,803.5" stroke="#c9c9c9"/>
<path d="M739.7,826.2C754.5,825.8 806,824.4 828.6,823.7C851.2,823.1 861.9,822.3 875.4,822.2C888.9,822.1 900.9,822.8 909.7,823.1C918.6,823.5 923.2,824.4 928.4,824.4C933.6,824.4 937.3,824.3 940.9,823.1C944.5,822 947.7,820.5 950.3,817.5C952.9,814.5 954.4,811.8 956.5,805C958.6,798.3 960.9,788.4 962.7,776.9C964.6,765.5 965.6,753.5 967.4,736.4C969.2,719.2 971.6,694.8 973.7,674C975.7,653.2 978.1,629.8 979.9,611.6C981.7,593.4 983.1,575.7 984.6,564.8C986,553.9 987.5,550.2 988.6,546.1C989.8,541.9 990.5,539.8 991.5,539.8C992.4,539.8 993.4,540.4 994.6,546.1C995.8,551.8 997.2,561.7 998.6,574.2C1000.1,586.6 1001.5,605.9 1003.3,621C1005.1,636 1007.5,651.6 1009.5,664.6C1011.6,677.6 1013.2,688 1015.8,698.9C1018.4,709.9 1022,720.3 1025.1,730.1C1028.3,740 1030.9,749.4 1034.5,758.2C1038.1,767.1 1042.3,775.9 1047,783.2C1051.7,790.5 1056.3,797.2 1062.6,801.9C1068.8,806.6 1076.1,808.9 1084.4,811.3C1092.7,813.6 1107.8,815.2 1112.5,815.9" stroke="#848484"/>
<path d="M739.7,816.9C754.5,816.7 806,816.3 828.6,815.9C851.2,815.6 861.9,815.4 875.4,815C888.9,814.6 900.9,814.3 909.7,813.8C918.6,813.2 923.2,812.8 928.4,811.9C933.6,810.9 937.3,810.3 940.9,808.1C944.5,806 947.4,804 950.3,798.8C953.1,793.6 955.7,787.3 958.1,776.9C960.4,766.5 962.5,752 964.3,736.4C966.1,720.8 967.4,702.6 969,683.3C970.5,664.1 972.1,641.7 973.7,621C975.2,600.2 976.8,579.4 978.3,558.6C979.9,537.8 981.7,511.8 983,496.2C984.4,480.6 985.5,471.7 986.5,465C987.4,458.2 988.1,456.1 989,455.6C989.8,455.1 990.5,456.6 991.5,461.8C992.4,467 993.4,474.8 994.6,486.8C995.8,498.8 997.2,516.4 998.6,533.6C1000.1,550.8 1001.5,571.6 1003.3,589.8C1005.1,608 1007.2,627.2 1009.5,642.8C1011.9,658.4 1014.7,672.4 1017.3,683.3C1019.9,694.3 1022.3,699.5 1025.1,708.3C1028,717.1 1030.9,727 1034.5,736.4C1038.1,745.7 1042.8,757.2 1047,764.5C1051.1,771.7 1055.3,775.9 1059.5,780.1C1063.6,784.2 1067.3,786.8 1071.9,789.4C1076.6,792 1080.8,793.8 1087.5,795.7C1094.3,797.5 1108.3,799.6 1112.5,800.3" stroke="#0f9872"/>
<path d="M739.7,826.9C754.5,826.6 807.5,825.7 828.6,825.3C849.7,824.9 855.6,824.7 866,824.4C876.4,824 884.8,824 891,823.1C897.2,822.2 899.8,821.6 903.5,819.1C907.1,816.6 909.7,814.1 912.8,808.1C916,802.2 919.3,791.5 922.2,783.2C925,774.9 927.4,766.5 930,758.2C932.6,749.9 935.4,740 937.8,733.3C940.1,726.5 941.9,722.3 944,717.7C946.1,713 948.4,708 950.3,705.2C952.1,702.3 953.4,701.8 954.9,700.5C956.5,699.2 957.9,699.2 959.6,697.4C961.3,695.6 963.4,693 965.2,689.6C967.1,686.2 968.6,682.3 970.5,677.1C972.5,671.9 975,666.7 976.8,658.4C978.6,650.1 979.9,637.6 981.5,627.2C983,616.8 984.8,603.3 986.1,596C987.4,588.7 988.2,584.8 989.3,583.5C990.3,582.2 991.2,583 992.4,588.2C993.6,593.4 994.9,603 996.4,614.7C998,626.4 1000.1,644.9 1001.7,658.4C1003.4,671.9 1004.6,684.4 1006.4,695.8C1008.2,707.3 1010.3,717.1 1012.7,727C1015,736.9 1017.3,746.3 1020.5,755.1C1023.6,763.9 1027,772.8 1031.4,780.1C1035.8,787.3 1041.3,794.1 1047,798.8C1052.7,803.5 1058.9,805.5 1065.7,808.1C1072.5,810.7 1079.7,812.6 1087.5,814.4C1095.3,816.2 1108.3,818.3 1112.5,819.1" stroke="#f6e84a"/>
<path d="M739.7,820.6C749.3,820.5 782.6,820.4 797.4,820C812.2,819.6 819.2,819.3 828.6,818.1C838,816.9 846.8,815 853.6,812.8C860.3,810.6 864.5,808.4 869.2,805C873.8,801.6 878,797.7 881.6,792.5C885.3,787.3 888.1,782.7 891,773.8C893.9,765 896.5,752 898.8,739.5C901.1,727 903,713.5 905,698.9C907.1,684.4 909.2,668.3 911.3,652.1C913.4,636 915.4,618.4 917.5,602.2C919.6,586.1 921.9,568.4 923.7,555.4C925.6,542.4 927,531.3 928.4,524.2C929.8,517.2 931,515.4 932.2,513.3C933.3,511.2 934.3,511 935.3,511.8C936.3,512.5 937.2,513.8 938.4,518C939.6,522.2 941,528.9 942.5,536.7C943.9,544.5 945.3,554.9 947.1,564.8C949,574.7 951.3,586.1 953.4,596C955.5,605.9 957.5,615.8 959.6,624.1C961.7,632.4 963.8,639.1 965.9,645.9C967.9,652.7 970.3,660.2 972.1,664.6C973.9,669 975.2,671.6 976.8,672.4C978.3,673.2 980.2,670.6 981.5,669.3C982.8,668 983.4,665.5 984.6,664.6C985.7,663.7 987.2,663 988.3,664C989.5,665 990.3,666.6 991.5,670.9C992.6,675.1 994.1,682.3 995.5,689.6C997,696.9 998.4,706.2 1000.2,714.5C1002,722.9 1004.3,732.2 1006.4,739.5C1008.5,746.8 1010.1,752 1012.7,758.2C1015.3,764.5 1018.4,771.7 1022,776.9C1025.7,782.1 1029.3,786 1034.5,789.4C1039.7,792.8 1045.9,795.1 1053.2,797.2C1060.5,799.3 1068.3,800.6 1078.2,801.9C1088.1,803.2 1106.8,804.5 1112.5,805" stroke="#e8a215"/>
<path d="M739.7,819.1C749.3,818.9 783.6,819.2 797.4,818.1C811.2,817.1 816.6,815.3 822.4,812.8C828.1,810.4 828.6,808.4 831.7,803.5C834.8,798.5 838,792.8 841.1,783.2C844.2,773.6 847.3,759.8 850.4,745.7C853.6,731.7 856.7,716.1 859.8,698.9C862.9,681.8 866,661.5 869.2,642.8C872.3,624.1 875.4,605.4 878.5,586.6C881.6,567.9 885,546.1 887.9,530.5C890.7,514.9 893.3,501.9 895.7,493C898,484.2 900.1,480.5 901.9,477.4C903.7,474.4 905,474.9 906.6,474.9C908.2,474.9 909.7,474.4 911.3,477.4C912.8,480.5 914.1,485.2 916,493C917.8,500.8 920.1,513.3 922.2,524.2C924.3,535.2 926.1,545.6 928.4,558.6C930.8,571.6 933.9,589.2 936.2,602.2C938.6,615.2 940.1,624.1 942.5,636.5C944.8,649 947.9,665.1 950.3,677.1C952.6,689.1 954.4,700 956.5,708.3C958.6,716.6 960.1,721.3 962.7,727C965.3,732.7 968.5,737.9 972.1,742.6C975.7,747.3 979.9,750.4 984.6,755.1C989.3,759.8 996,766 1000.2,770.7C1004.3,775.4 1005.9,779.5 1009.5,783.2C1013.2,786.8 1015.8,789.4 1022,792.5C1028.3,795.7 1037.6,799.6 1047,801.9C1056.3,804.2 1067.3,805.3 1078.2,806.6C1089.1,807.9 1106.8,809.2 1112.5,809.7" stroke="#e8a215" stroke-dasharray="9 4 2.5 4"/>
<path d="M739.7,818.1C749.3,817.9 785.7,817.8 797.4,816.9C809.1,816 806.2,815.3 809.9,812.8C813.5,810.3 816.1,807.4 819.2,801.9C822.4,796.4 825.5,789.9 828.6,780.1C831.7,770.2 834.8,757.7 838,742.6C841.1,727.5 844.2,707.8 847.3,689.6C850.4,671.4 853.6,651.6 856.7,633.4C859.8,615.2 862.9,597 866,580.4C869.2,563.8 872.3,547.6 875.4,533.6C878.5,519.6 882.2,505 884.8,496.2C887.4,487.3 889.2,484.1 891,480.6C892.8,477 894.1,475.5 895.7,474.9C897.2,474.4 898.8,474.9 900.4,477.4C901.9,479.9 903.2,483.2 905,489.9C906.9,496.7 909.2,507.6 911.3,518C913.4,528.4 915.4,540.4 917.5,552.3C919.6,564.3 921.7,577.3 923.7,589.8C925.8,602.2 927.6,614.2 930,627.2C932.3,640.2 935.2,654.7 937.8,667.7C940.4,680.7 943,693.7 945.6,705.2C948.2,716.6 950.5,727.5 953.4,736.4C956.2,745.2 959.1,752 962.7,758.2C966.4,764.5 970.5,769.4 975.2,773.8C979.9,778.2 985.1,781.6 990.8,784.7C996.5,787.9 1002.8,790.2 1009.5,792.5C1016.3,794.9 1022.5,797.2 1031.4,798.8C1040.2,800.3 1049.1,801 1062.6,801.9C1076.1,802.8 1104.2,804 1112.5,804.4" stroke="#da6a1e"/>
<path d="M739.7,817.5C748.3,817.4 780.5,817.7 791.2,816.9C801.8,816.1 800,815.8 803.6,812.8C807.3,809.8 809.9,805.8 813,798.8C816.1,791.8 819.2,782.7 822.4,770.7C825.5,758.7 828.6,743.7 831.7,727C834.8,710.4 838,690.6 841.1,670.9C844.2,651.1 847.3,629.3 850.4,608.5C853.6,587.7 856.9,563.2 859.8,546.1C862.7,528.9 865.3,515.9 867.6,505.5C869.9,495.1 872,488.6 873.8,483.7C875.7,478.7 877,477.5 878.5,475.9C880.1,474.2 881.6,473.7 883.2,473.7C884.8,473.7 886.3,474.2 887.9,475.9C889.4,477.5 890.7,479.3 892.6,483.7C894.4,488.1 896.5,493.6 898.8,502.4C901.1,511.2 904,524.2 906.6,536.7C909.2,549.2 911.8,563.2 914.4,577.3C917,591.3 919.6,607.4 922.2,621C924.8,634.5 927.4,646.9 930,658.4C932.6,669.8 934.9,679.2 937.8,689.6C940.6,700 944,711.4 947.1,720.8C950.3,730.1 953.1,738.5 956.5,745.7C959.9,753 963.3,759 967.4,764.5C971.6,769.9 976,774.3 981.5,778.5C986.9,782.7 991.9,786.3 1000.2,789.4C1008.5,792.5 1021,795.2 1031.4,797.2C1041.8,799.2 1049.1,800.2 1062.6,801.3C1076.1,802.3 1104.2,803.1 1112.5,803.5" stroke="#da6a1e" stroke-dasharray="9 4 2.5 4"/>
<path d="M739.7,818.1C747.7,818 778.4,818.4 788,817.5C797.7,816.6 794.3,816.5 797.4,812.8C800.5,809.2 803.6,803.7 806.8,795.7C809.9,787.6 813,779 816.1,764.5C819.2,749.9 822.4,730.1 825.5,708.3C828.6,686.5 832,656.8 834.8,633.4C837.7,610 840.3,587.2 842.6,567.9C845,548.7 846.8,531.5 848.9,518C851,504.5 853.3,493.8 855.1,486.8C856.9,479.8 858.5,477.9 859.8,475.9C861.1,473.9 861.9,474.8 862.9,474.9C864,475.1 864.5,474.8 866,476.8C867.6,478.8 869.7,479.9 872.3,486.8C874.9,493.7 878.5,506.6 881.6,518C884.8,529.4 887.9,543.5 891,555.4C894.1,567.4 897.2,578.8 900.4,589.8C903.5,600.7 906.6,611.1 909.7,621C912.8,630.8 916,639.7 919.1,649C922.2,658.4 924.8,667.2 928.4,677.1C932.1,687 936.7,698.4 940.9,708.3C945.1,718.2 949.2,728.1 953.4,736.4C957.5,744.7 961.2,752 965.9,758.2C970.5,764.5 975.7,769.1 981.5,773.8C987.2,778.5 993.4,782.7 1000.2,786.3C1006.9,789.9 1014.2,793.3 1022,795.7C1029.8,798 1037.6,799.2 1047,800.3C1056.3,801.5 1067.3,802 1078.2,802.5C1089.1,803 1106.8,803.3 1112.5,803.5" stroke="#d47fb0"/>
</g>
<g fill="none" stroke-width="2.4" stroke-linejoin="round">
<path d="M1438.3,801.3C1448.6,801.3 1484.7,801.6 1500.5,801.3C1516.4,801 1525.1,800.4 1533.3,799.7C1541.5,798.9 1544.2,799.2 1549.7,797C1555.1,794.9 1561.7,791.6 1566,786.6C1570.4,781.5 1573.1,775.6 1575.9,766.9C1578.6,758.2 1580.2,747.8 1582.4,734.1C1584.6,720.5 1586.8,705.2 1589,685C1591.2,664.8 1593.6,635.9 1595.5,612.9C1597.4,590 1598.9,566.5 1600.4,547.4C1602,528.3 1603.3,511.9 1604.7,498.3C1606.1,484.6 1607.1,473.2 1608.6,465.5C1610.1,457.9 1611.9,455.1 1613.5,452.4C1615.2,449.7 1617,448.6 1618.5,449.1C1619.9,449.7 1621,451.3 1622.4,455.7C1623.7,460.1 1625.1,466.6 1626.6,475.3C1628.2,484.1 1629.9,497.2 1631.6,508.1C1633.2,519 1634.8,530.5 1636.5,540.9C1638.1,551.2 1640,564.1 1641.4,570.3C1642.7,576.6 1643.6,578.5 1644.7,578.5C1645.7,578.5 1646.7,574.4 1647.9,570.3C1649.1,566.3 1650.5,558.9 1651.9,554C1653.2,549.1 1654.6,544.1 1656.1,540.9C1657.7,537.6 1659.5,535.4 1661,534.3C1662.6,533.2 1664.1,532.7 1665.3,534.3C1666.5,535.9 1667,537.6 1668.2,544.1C1669.4,550.7 1671,562.7 1672.5,573.6C1674,584.5 1675.5,597.6 1677.4,609.7C1679.3,621.7 1681.8,634.2 1684,645.7C1686.2,657.2 1688.3,668.6 1690.5,678.5C1692.7,688.3 1694.3,695.9 1697.1,704.7C1699.8,713.4 1703.6,723.8 1706.9,730.9C1710.2,738 1712.9,742.9 1716.7,747.2C1720.5,751.6 1724.9,754.3 1729.8,757.1C1734.7,759.8 1740.8,762 1746.2,763.6C1751.7,765.3 1757.1,766.1 1762.6,766.9C1768,767.7 1770.8,767.4 1779,768.5C1787.2,769.6 1806.3,772.6 1811.7,773.5" stroke="#bdbdbd" stroke-dasharray="1.6 3.2" stroke-linecap="round"/>
<path d="M1438.3,799.7C1448.6,799.6 1484.7,799.4 1500.5,799C1516.4,798.6 1525.1,797.8 1533.3,797.4C1541.5,796.9 1541.5,796.4 1549.7,796.4C1557.8,796.4 1572.6,797.3 1582.4,797.4C1592.2,797.5 1602.6,797.7 1608.6,797C1614.6,796.3 1615.7,795.1 1618.5,793.1C1621.2,791.1 1622.8,789.3 1625,784.9C1627.2,780.5 1629.4,774.3 1631.6,766.9C1633.7,759.5 1636.2,750.5 1638.1,740.7C1640,730.9 1641.7,719.9 1643,707.9C1644.4,695.9 1645.2,682.8 1646.3,668.6C1647.4,654.4 1648.5,639.1 1649.6,622.8C1650.7,606.4 1651.8,587.8 1652.8,570.3C1653.9,552.9 1655,534.3 1656.1,517.9C1657.2,501.6 1658.3,485.7 1659.4,472.1C1660.5,458.4 1661.7,445.3 1662.7,436C1663.7,426.8 1664.5,420.7 1665.3,416.4C1666.1,412 1666.8,409.8 1667.6,409.8C1668.4,409.8 1669.2,410.9 1670.2,416.4C1671.2,421.8 1672.3,430 1673.5,442.6C1674.7,455.1 1675.9,475.9 1677.4,491.7C1678.9,507.6 1680.7,524.5 1682.3,537.6C1684,550.7 1685.3,561.1 1687.2,570.3C1689.2,579.6 1691.9,586.2 1693.8,593.3C1695.7,600.4 1697.1,605.3 1698.7,612.9C1700.3,620.6 1701.7,629.3 1703.6,639.1C1705.5,649 1708,661.5 1710.2,671.9C1712.4,682.3 1714.3,692.1 1716.7,701.4C1719.2,710.7 1722.2,719.9 1724.9,727.6C1727.6,735.2 1730.1,742.1 1733.1,747.2C1736.1,752.4 1739.7,756 1742.9,758.7C1746.2,761.4 1748.4,762 1752.8,763.6C1757.1,765.3 1763.1,766.9 1769.1,768.5C1775.1,770.2 1781.7,772.1 1788.8,773.5C1795.9,774.8 1807.9,776.2 1811.7,776.7" stroke="#0f9872"/>
<path d="M1438.3,800.3C1448.6,800.2 1485.8,800 1500.5,799.7C1515.3,799.3 1519.6,798.8 1526.7,798C1533.8,797.2 1538.2,796.1 1543.1,794.7C1548,793.4 1552.4,792.3 1556.2,789.8C1560,787.4 1562.8,784.9 1566,780C1569.3,775.1 1572.9,770.2 1575.9,760.3C1578.9,750.5 1581.3,737.4 1584.1,721C1586.8,704.7 1589.8,682.8 1592.2,662.1C1594.7,641.3 1596.9,618.4 1598.8,596.6C1600.7,574.7 1602.2,551.2 1603.7,531C1605.2,510.8 1606.6,489.5 1608,475.3C1609.3,461.2 1610.6,453.2 1611.9,445.9C1613.2,438.5 1614.6,434.4 1615.8,431.1C1617.1,427.8 1618.2,425.9 1619.4,426.2C1620.7,426.5 1621.9,427.3 1623.4,432.8C1624.8,438.2 1626.6,449.1 1628.3,459C1629.9,468.8 1631.6,481.4 1633.2,491.7C1634.8,502.1 1636.6,512.5 1638.1,521.2C1639.6,529.9 1641.1,538.7 1642.4,544.1C1643.6,549.6 1644.6,553.4 1645.6,554C1646.7,554.5 1647.4,551.2 1648.6,547.4C1649.8,543.6 1651.3,536.5 1652.8,531C1654.4,525.6 1656.3,518.5 1657.8,514.7C1659.2,510.8 1660.6,508.9 1661.7,508.1C1662.8,507.3 1663.3,507 1664.3,509.7C1665.3,512.5 1666.4,516.6 1667.6,524.5C1668.8,532.4 1670.2,545.2 1671.5,557.2C1672.9,569.3 1674.2,584.5 1675.8,596.6C1677.3,608.6 1678.8,619.5 1680.7,629.3C1682.6,639.1 1685.1,647.3 1687.2,655.5C1689.4,663.7 1691.6,670.8 1693.8,678.5C1696,686.1 1697.6,693.2 1700.3,701.4C1703.1,709.6 1706.9,719.9 1710.2,727.6C1713.5,735.2 1716.7,742.3 1720,747.2C1723.3,752.2 1726,754.9 1729.8,757.1C1733.7,759.3 1738.6,759.5 1742.9,760.3C1747.3,761.2 1751.7,761.5 1756,762C1760.4,762.4 1764.8,762.4 1769.1,763C1773.5,763.5 1777.9,764.3 1782.2,765.3C1786.6,766.2 1790.4,767.4 1795.3,768.5C1800.3,769.6 1809,771.3 1811.7,771.8" stroke="#f6e84a"/>
<path d="M1438.3,799.7C1448.6,799.6 1488,799.6 1500.5,799C1513.1,798.5 1509.8,797.6 1513.6,796.4C1517.4,795.1 1520.2,793.7 1523.4,791.5C1526.7,789.3 1530,786.8 1533.3,783.3C1536.6,779.7 1539.8,776.2 1543.1,770.2C1546.4,764.2 1549.9,756.5 1552.9,747.2C1555.9,738 1558.7,727 1561.1,714.5C1563.6,701.9 1565.8,688.8 1567.7,671.9C1569.6,655 1570.7,633.7 1572.6,612.9C1574.5,592.2 1577,567.6 1579.1,547.4C1581.3,527.2 1583.6,507 1585.7,491.7C1587.8,476.4 1589.8,465.5 1591.6,455.7C1593.4,445.9 1595.1,438.2 1596.5,432.8C1597.9,427.3 1598.8,425.1 1599.8,422.9C1600.7,420.7 1601.3,419.7 1602.1,419.7C1602.9,419.7 1603.6,420.2 1604.7,422.9C1605.8,425.7 1607.1,428.9 1608.6,436C1610.1,443.1 1611.9,454.1 1613.5,465.5C1615.2,477 1616.5,490.6 1618.5,504.8C1620.4,519 1622.8,535.9 1625,550.7C1627.2,565.4 1629.4,581.3 1631.6,593.3C1633.7,605.3 1635.9,614 1638.1,622.8C1640.3,631.5 1642.5,639.7 1644.7,645.7C1646.8,651.7 1649,654.4 1651.2,658.8C1653.4,663.2 1655.6,668.1 1657.8,671.9C1659.9,675.7 1662.4,677.9 1664.3,681.7C1666.2,685.5 1667.6,689.4 1669.2,694.8C1670.9,700.3 1672.2,707.9 1674.1,714.5C1676.1,721 1678,728.1 1680.7,734.1C1683.4,740.1 1686.7,746.2 1690.5,750.5C1694.3,754.9 1698.7,757.6 1703.6,760.3C1708.5,763.1 1714,765 1720,766.9C1726,768.8 1732.6,770.4 1739.7,771.8C1746.8,773.2 1750.6,774 1762.6,775.1C1774.6,776.2 1803.5,777.8 1811.7,778.4" stroke="#e8a215"/>
<path d="M1438.3,800.3C1448.6,800.2 1486.9,800.9 1500.5,799.7C1514.2,798.5 1514.7,795.8 1520.2,793.1C1525.6,790.4 1529.5,788.2 1533.3,783.3C1537.1,778.4 1540.1,771.8 1543.1,763.6C1546.1,755.4 1548.8,745.6 1551.3,734.1C1553.8,722.7 1555.7,709 1557.8,694.8C1560,680.6 1562.5,664.3 1564.4,649C1566.3,633.7 1567.7,619.5 1569.3,603.1C1570.9,586.7 1572.6,566.5 1574.2,550.7C1575.9,534.9 1577.2,521.2 1579.1,508.1C1581.1,495 1583.5,482.4 1585.7,472.1C1587.9,461.7 1590.3,452.1 1592.2,445.9C1594.2,439.6 1595.6,436.6 1597.2,434.4C1598.7,432.2 1600.1,431.9 1601.4,432.8C1602.8,433.6 1603.9,434.9 1605.3,439.3C1606.8,443.7 1608.6,450.8 1610.3,459C1611.9,467.2 1613.5,477.5 1615.2,488.4C1616.8,499.4 1618.2,511.9 1620.1,524.5C1622,537 1624.5,550.7 1626.6,563.8C1628.8,576.9 1631,591.1 1633.2,603.1C1635.4,615.1 1637.6,626.6 1639.7,635.9C1641.9,645.1 1644.1,652.8 1646.3,658.8C1648.5,664.8 1650.4,667.5 1652.8,671.9C1655.3,676.3 1658.6,680.1 1661,685C1663.5,689.9 1665.4,694.8 1667.6,701.4C1669.8,707.9 1671.4,717.2 1674.1,724.3C1676.9,731.4 1680.1,738.5 1684,744C1687.8,749.4 1692.2,753.5 1697.1,757.1C1702,760.6 1706.9,763.1 1713.5,765.3C1720,767.4 1728.2,768.8 1736.4,770.2C1744.6,771.5 1750,772.4 1762.6,773.5C1775.1,774.5 1803.5,776.2 1811.7,776.7" stroke="#8a8a8a" stroke-dasharray="3 6" stroke-linecap="round"/>
<path d="M1438.3,799.7C1445.9,799.6 1473.8,799.6 1484.1,799C1494.5,798.5 1495.6,797.9 1500.5,796.4C1505.4,794.9 1509.8,793.1 1513.6,789.8C1517.4,786.6 1520.2,782.2 1523.4,776.7C1526.7,771.3 1530,765.8 1533.3,757.1C1536.6,748.3 1540.1,736.9 1543.1,724.3C1546.1,711.8 1548.6,699.7 1551.3,681.7C1554,663.7 1557,637 1559.5,616.2C1561.9,595.5 1563.9,575.8 1566,557.2C1568.2,538.7 1570.4,520.1 1572.6,504.8C1574.8,489.5 1577.1,477 1579.1,465.5C1581.2,454.1 1583.3,443.1 1585,436C1586.8,428.9 1588.4,425.7 1589.6,422.9C1590.8,420.2 1591.3,419.9 1592.2,419.7C1593.2,419.4 1594.2,419.7 1595.5,421.3C1596.9,422.9 1598.8,424.8 1600.4,429.5C1602.1,434.1 1603.4,439.9 1605.3,449.1C1607.3,458.4 1609.7,471.5 1611.9,485.2C1614.1,498.8 1616.3,516.3 1618.5,531C1620.6,545.8 1622.5,559.4 1625,573.6C1627.5,587.8 1630.5,603.7 1633.2,616.2C1635.9,628.8 1638.4,638.6 1641.4,649C1644.4,659.3 1647.9,669.7 1651.2,678.5C1654.5,687.2 1657.8,694.3 1661,701.4C1664.3,708.5 1667,714.5 1670.9,721C1674.7,727.6 1679.6,735.2 1684,740.7C1688.3,746.2 1691.6,749.7 1697.1,753.8C1702.5,757.9 1709.6,762.3 1716.7,765.3C1723.8,768.3 1731.5,770.2 1739.7,771.8C1747.8,773.5 1753.9,774 1765.9,775.1C1777.9,776.2 1804.1,777.8 1811.7,778.4" stroke="#da6a1e"/>
<path d="M1438.3,799.7C1445.9,799.6 1475.1,799.8 1484.1,799C1493.1,798.2 1489.6,797.4 1492.3,794.7C1495.1,792.1 1497.8,789 1500.5,783.3C1503.2,777.5 1506,770.2 1508.7,760.3C1511.4,750.5 1514.2,738.5 1516.9,724.3C1519.6,710.1 1522.4,693.2 1525.1,675.2C1527.8,657.2 1530.5,636.4 1533.3,616.2C1536,596 1538.7,573.1 1541.5,554C1544.2,534.9 1546.9,516.8 1549.7,501.6C1552.4,486.3 1555.1,473.2 1557.8,462.2C1560.6,451.3 1563.6,442.3 1566,436C1568.5,429.8 1570.6,427.2 1572.6,424.6C1574.6,421.9 1576.4,420.6 1578.2,420.3C1579.9,420 1581.3,420.9 1583.1,422.9C1584.9,425 1586.9,427.8 1589,432.8C1591,437.7 1593.3,444.2 1595.5,452.4C1597.7,460.6 1599.6,469.9 1602.1,481.9C1604.5,493.9 1607.5,510.8 1610.3,524.5C1613,538.1 1615.4,549.6 1618.5,563.8C1621.5,578 1625,595.5 1628.3,609.7C1631.6,623.9 1634.8,637 1638.1,649C1641.4,661 1644.7,671.9 1647.9,681.7C1651.2,691.6 1654.5,700.3 1657.8,707.9C1661,715.6 1663.8,721 1667.6,727.6C1671.4,734.1 1675.8,741.8 1680.7,747.2C1685.6,752.7 1691.1,756.8 1697.1,760.3C1703.1,763.9 1709.6,766.4 1716.7,768.5C1723.8,770.7 1731.5,772.2 1739.7,773.5C1747.8,774.7 1753.9,775.3 1765.9,776.1C1777.9,776.9 1804.1,778 1811.7,778.4" stroke="#d47fb0"/>
</g>
<path d="M115.4,380.6 L115.4,851.2 L489.3,851.2" fill="none" stroke="#000" stroke-width="1.7"/>
<path d="M115.4,851.2 v9.5 M140.3,851.2 v4.8 M165.2,851.2 v9.5 M190.1,851.2 v4.8 M215.1,851.2 v9.5 M240,851.2 v4.8 M264.9,851.2 v9.5 M289.8,851.2 v4.8 M314.7,851.2 v9.5 M339.6,851.2 v4.8 M364.5,851.2 v9.5 M389.5,851.2 v4.8 M414.4,851.2 v9.5 M439.3,851.2 v4.8 M464.2,851.2 v9.5 M489.1,851.2 v4.8 M488.9,851.2 v9.5" stroke="#000" stroke-width="1.7"/>
<text x="115.4" y="892.7" font-size="26.5" fill="#000" text-anchor="middle">5</text>
<text x="165.2" y="892.7" font-size="26.5" fill="#000" text-anchor="middle">6</text>
<text x="215.1" y="892.7" font-size="26.5" fill="#000" text-anchor="middle">7</text>
<text x="264.9" y="892.7" font-size="26.5" fill="#000" text-anchor="middle">8</text>
<text x="314.7" y="892.7" font-size="26.5" fill="#000" text-anchor="middle">9</text>
<text x="364.5" y="892.7" font-size="26.5" fill="#000" text-anchor="middle">10</text>
<text x="414.4" y="892.7" font-size="26.5" fill="#000" text-anchor="middle">11</text>
<text x="464.2" y="892.7" font-size="26.5" fill="#000" text-anchor="middle">12</text>
<text x="302.9" y="935.2" font-size="28.6" fill="#000" text-anchor="middle">Elution time (min)</text>
<text transform="translate(96.6,620.6) rotate(-90)" font-size="29.3" text-anchor="middle">A (a.u.)</text>
<text x="75.3" y="348.6" font-size="42" font-weight="bold">a</text>
<path d="M739.2,380.6 L739.2,851.2 L1113,851.2" fill="none" stroke="#000" stroke-width="1.7"/>
<path d="M739.2,851.2 v9.5 M764.1,851.2 v4.8 M789,851.2 v9.5 M813.9,851.2 v4.8 M838.9,851.2 v9.5 M863.8,851.2 v4.8 M888.7,851.2 v9.5 M913.6,851.2 v4.8 M938.5,851.2 v9.5 M963.4,851.2 v4.8 M988.4,851.2 v9.5 M1013.3,851.2 v4.8 M1038.2,851.2 v9.5 M1063.1,851.2 v4.8 M1088,851.2 v9.5 M1112.9,851.2 v4.8 M1112.6,851.2 v9.5" stroke="#000" stroke-width="1.7"/>
<text x="739.2" y="892.7" font-size="26.5" fill="#000" text-anchor="middle">5</text>
<text x="789" y="892.7" font-size="26.5" fill="#000" text-anchor="middle">6</text>
<text x="838.9" y="892.7" font-size="26.5" fill="#000" text-anchor="middle">7</text>
<text x="888.7" y="892.7" font-size="26.5" fill="#000" text-anchor="middle">8</text>
<text x="938.5" y="892.7" font-size="26.5" fill="#000" text-anchor="middle">9</text>
<text x="988.4" y="892.7" font-size="26.5" fill="#000" text-anchor="middle">10</text>
<text x="1038.2" y="892.7" font-size="26.5" fill="#000" text-anchor="middle">11</text>
<text x="1088" y="892.7" font-size="26.5" fill="#000" text-anchor="middle">12</text>
<text x="926.6" y="935.2" font-size="28.6" fill="#000" text-anchor="middle">Elution time (min)</text>
<text transform="translate(720.6,620.6) rotate(-90)" font-size="29.3" text-anchor="middle">A (a.u.)</text>
<text x="697.8" y="348.6" font-size="42" font-weight="bold">b</text>
<path d="M1437,380.6 L1437,850.9 L1812,850.9" fill="none" stroke="#000" stroke-width="1.7"/>
<path d="M1437,850.9 v9.5 M1461.9,850.9 v4.8 M1486.8,850.9 v9.5 M1511.7,850.9 v4.8 M1536.7,850.9 v9.5 M1561.6,850.9 v4.8 M1586.5,850.9 v9.5 M1611.4,850.9 v4.8 M1636.3,850.9 v9.5 M1661.2,850.9 v4.8 M1686.2,850.9 v9.5 M1711.1,850.9 v4.8 M1736,850.9 v9.5 M1760.9,850.9 v4.8 M1785.8,850.9 v9.5 M1810.7,850.9 v4.8 M1811.6,850.9 v9.5" stroke="#000" stroke-width="1.7"/>
<text x="1437" y="892.4" font-size="26.5" fill="#000" text-anchor="middle">5</text>
<text x="1486.8" y="892.4" font-size="26.5" fill="#000" text-anchor="middle">6</text>
<text x="1536.7" y="892.4" font-size="26.5" fill="#000" text-anchor="middle">7</text>
<text x="1586.5" y="892.4" font-size="26.5" fill="#000" text-anchor="middle">8</text>
<text x="1636.3" y="892.4" font-size="26.5" fill="#000" text-anchor="middle">9</text>
<text x="1686.2" y="892.4" font-size="26.5" fill="#000" text-anchor="middle">10</text>
<text x="1736" y="892.4" font-size="26.5" fill="#000" text-anchor="middle">11</text>
<text x="1785.8" y="892.4" font-size="26.5" fill="#000" text-anchor="middle">12</text>
<text x="1625" y="934.9" font-size="28.6" fill="#000" text-anchor="middle">Elution time (min)</text>
<text transform="translate(1418.6,620.6) rotate(-90)" font-size="29.3" text-anchor="middle">A (a.u.)</text>
<text x="1396" y="348.6" font-size="42" font-weight="bold">c</text>
<line x1="396.4" y1="364.2" x2="450" y2="364.2" stroke="#0f9872" stroke-width="2"/>
<text x="458.8" y="370.9" font-size="20.4" fill="#000">BSA-Br</text>
<text x="399.3" y="400.2" font-size="20.4" fill="#000">BSA-PS</text>
<line x1="396.4" y1="419.7" x2="450" y2="419.7" stroke="#c9c9c9" stroke-width="2"/>
<text x="459.1" y="426.7" font-size="20"><tspan font-style="italic">M</tspan><tspan font-size="14" dy="7.5">n</tspan><tspan dy="-7.5">/</tspan><tspan font-style="italic">I</tspan><tspan font-size="14" dy="7.5">0</tspan><tspan dy="-7.5"> = 50/1</tspan></text>
<line x1="396.4" y1="455.4" x2="450" y2="455.4" stroke="#848484" stroke-width="2"/>
<text x="459.1" y="462.4" font-size="20"><tspan font-style="italic">M</tspan><tspan font-size="14" dy="7.5">n</tspan><tspan dy="-7.5">/</tspan><tspan font-style="italic">I</tspan><tspan font-size="14" dy="7.5">0</tspan><tspan dy="-7.5"> = 500/1</tspan></text>
<line x1="396.4" y1="491" x2="450" y2="491" stroke="#2eaae3" stroke-width="2"/>
<text x="459.1" y="498" font-size="20"><tspan font-style="italic">M</tspan><tspan font-size="14" dy="7.5">n</tspan><tspan dy="-7.5">/</tspan><tspan font-style="italic">I</tspan><tspan font-size="14" dy="7.5">0</tspan><tspan dy="-7.5"> = 2000/1</tspan></text>
<line x1="396.4" y1="526.8" x2="450" y2="526.8" stroke="#1a70ad" stroke-width="2"/>
<text x="459.1" y="533.8" font-size="20"><tspan font-style="italic">M</tspan><tspan font-size="14" dy="7.5">n</tspan><tspan dy="-7.5">/</tspan><tspan font-style="italic">I</tspan><tspan font-size="14" dy="7.5">0</tspan><tspan dy="-7.5"> = 5000/1</tspan></text>
<line x1="1048.9" y1="344.9" x2="1101.6" y2="344.9" stroke="#0f9872" stroke-width="2.2"/>
<text x="1109" y="351.2" font-size="20.4" fill="#000">BSA-Br</text>
<text x="1052.9" y="380" font-size="20.4">BSA-PS (<tspan font-style="italic">M</tspan><tspan font-size="14" dy="7.5">n</tspan><tspan dy="-7.5">/</tspan><tspan font-style="italic">I</tspan><tspan font-size="14" dy="7.5">0</tspan><tspan dy="-7.5"> = 2000/1)</tspan></text>
<line x1="1048.9" y1="408.1" x2="1101.6" y2="408.1" stroke="#c9c9c9" stroke-width="2.2"/>
<text x="1109" y="414.5" font-size="20.4" fill="#000">5 min</text>
<line x1="1048.9" y1="436.2" x2="1101.6" y2="436.2" stroke="#848484" stroke-width="2.2"/>
<text x="1109" y="442.6" font-size="20.4" fill="#000">15 min</text>
<line x1="1048.9" y1="464.7" x2="1101.6" y2="464.7" stroke="#f6e84a" stroke-width="2.2"/>
<text x="1109" y="471.1" font-size="20.4" fill="#000">35 min</text>
<line x1="1048.9" y1="492.4" x2="1101.6" y2="492.4" stroke="#e8a215" stroke-width="2.2"/>
<text x="1109" y="498.8" font-size="20.4" fill="#000">45 min</text>
<line x1="1048.9" y1="520.5" x2="1101.6" y2="520.5" stroke="#e8a215" stroke-width="2.2" stroke-dasharray="9 4 2.5 4"/>
<text x="1109" y="526.9" font-size="20.4" fill="#000">70 min</text>
<line x1="1048.9" y1="548.5" x2="1101.6" y2="548.5" stroke="#da6a1e" stroke-width="2.2"/>
<text x="1109" y="554.9" font-size="20.4" fill="#000">100 min</text>
<line x1="1048.9" y1="576.6" x2="1101.6" y2="576.6" stroke="#da6a1e" stroke-width="2.2" stroke-dasharray="9 4 2.5 4"/>
<text x="1109" y="583" font-size="20.4" fill="#000">130 min</text>
<line x1="1048.9" y1="604.7" x2="1101.6" y2="604.7" stroke="#d47fb0" stroke-width="2.2"/>
<text x="1109" y="611.1" font-size="20.4" fill="#000">5 h</text>
<line x1="1746.5" y1="344.5" x2="1800.1" y2="344.5" stroke="#0f9872" stroke-width="2.2"/>
<text x="1807.9" y="350.8" font-size="20.4" fill="#000">BSA-Br</text>
<text x="1749" y="378.6" font-size="20.4">BSA-PS (<tspan font-style="italic">M</tspan><tspan font-size="14" dy="7.5">n</tspan><tspan dy="-7.5">/</tspan><tspan font-style="italic">I</tspan><tspan font-size="14" dy="7.5">0</tspan><tspan dy="-7.5"> = 2000/1)</tspan></text>
<line x1="1765" y1="408.5" x2="1800.1" y2="408.5" stroke="#f6e84a" stroke-width="2.2"/>
<g transform="translate(1756.6,407.7) scale(1.0)"><path d="M6,-15.6 C0,-12.5 -5.5,-10.5 -8,-6.5 C-11,-2 -10.5,4.5 -6.5,7.5 C-3.5,10 3,10.5 6.5,7 C10,3.5 10.3,0 10.4,-5 L10.6,-12 Z" fill="#bb9ae8" stroke="#000" stroke-width="1.5" stroke-linejoin="round"/><path d="M6.8,-15.2 L10.8,-12 M8.4,-17.7 L12.9,-14.3 M10.4,-20.5 L14.7,-17" stroke="#000" stroke-width="1.6" stroke-linecap="round"/><path d="M-20,-7.8 L-12.2,-6.4 M-21.3,3.7 L-14,1.8 M-10.3,16.2 L-7.1,11.3 M1.8,12.2 L3.9,19.5 M10.3,7.4 L14,14.5" stroke="#000" stroke-width="1.7" stroke-linecap="round"/></g>
<text x="1807.9" y="414.9" font-size="20.4" fill="#000">35 min UV</text>
<line x1="1746.5" y1="436.5" x2="1797.1" y2="436.5" stroke="#bdbdbd" stroke-width="2.0" stroke-dasharray="1.6 3.2" stroke-linecap="round"/>
<text x="1807.9" y="442.9" font-size="20.4" fill="#000">2 h dark</text>
<line x1="1765" y1="464.4" x2="1800.1" y2="464.4" stroke="#e8a215" stroke-width="2.2"/>
<g transform="translate(1756.6,463.6) scale(1.0)"><path d="M6,-15.6 C0,-12.5 -5.5,-10.5 -8,-6.5 C-11,-2 -10.5,4.5 -6.5,7.5 C-3.5,10 3,10.5 6.5,7 C10,3.5 10.3,0 10.4,-5 L10.6,-12 Z" fill="#bb9ae8" stroke="#000" stroke-width="1.5" stroke-linejoin="round"/><path d="M6.8,-15.2 L10.8,-12 M8.4,-17.7 L12.9,-14.3 M10.4,-20.5 L14.7,-17" stroke="#000" stroke-width="1.6" stroke-linecap="round"/><path d="M-20,-7.8 L-12.2,-6.4 M-21.3,3.7 L-14,1.8 M-10.3,16.2 L-7.1,11.3 M1.8,12.2 L3.9,19.5 M10.3,7.4 L14,14.5" stroke="#000" stroke-width="1.7" stroke-linecap="round"/></g>
<text x="1807.9" y="470.8" font-size="20.4" fill="#000">35 min UV</text>
<line x1="1746.5" y1="492.3" x2="1797.1" y2="492.3" stroke="#8a8a8a" stroke-width="2.0" stroke-dasharray="3 6" stroke-linecap="round"/>
<text x="1807.9" y="498.7" font-size="20.4" fill="#000">o/n dark</text>
<line x1="1765" y1="520.4" x2="1800.1" y2="520.4" stroke="#da6a1e" stroke-width="2.2"/>
<g transform="translate(1756.6,519.6) scale(1.0)"><path d="M6,-15.6 C0,-12.5 -5.5,-10.5 -8,-6.5 C-11,-2 -10.5,4.5 -6.5,7.5 C-3.5,10 3,10.5 6.5,7 C10,3.5 10.3,0 10.4,-5 L10.6,-12 Z" fill="#bb9ae8" stroke="#000" stroke-width="1.5" stroke-linejoin="round"/><path d="M6.8,-15.2 L10.8,-12 M8.4,-17.7 L12.9,-14.3 M10.4,-20.5 L14.7,-17" stroke="#000" stroke-width="1.6" stroke-linecap="round"/><path d="M-20,-7.8 L-12.2,-6.4 M-21.3,3.7 L-14,1.8 M-10.3,16.2 L-7.1,11.3 M1.8,12.2 L3.9,19.5 M10.3,7.4 L14,14.5" stroke="#000" stroke-width="1.7" stroke-linecap="round"/></g>
<text x="1807.9" y="526.8" font-size="20.4" fill="#000">2 h UV</text>
<line x1="1765" y1="548.7" x2="1800.1" y2="548.7" stroke="#d47fb0" stroke-width="2.2"/>
<g transform="translate(1756.6,547.9) scale(1.0)"><path d="M6,-15.6 C0,-12.5 -5.5,-10.5 -8,-6.5 C-11,-2 -10.5,4.5 -6.5,7.5 C-3.5,10 3,10.5 6.5,7 C10,3.5 10.3,0 10.4,-5 L10.6,-12 Z" fill="#bb9ae8" stroke="#000" stroke-width="1.5" stroke-linejoin="round"/><path d="M6.8,-15.2 L10.8,-12 M8.4,-17.7 L12.9,-14.3 M10.4,-20.5 L14.7,-17" stroke="#000" stroke-width="1.6" stroke-linecap="round"/><path d="M-20,-7.8 L-12.2,-6.4 M-21.3,3.7 L-14,1.8 M-10.3,16.2 L-7.1,11.3 M1.8,12.2 L3.9,19.5 M10.3,7.4 L14,14.5" stroke="#000" stroke-width="1.7" stroke-linecap="round"/></g>
<text x="1807.9" y="555.1" font-size="20.4" fill="#000">3 h UV</text>
<defs>
<filter id="bl1" x="-50%" y="-50%" width="200%" height="200%"><feGaussianBlur stdDeviation="1.2"/></filter>
<filter id="bl2" x="-50%" y="-50%" width="200%" height="200%"><feGaussianBlur stdDeviation="2.2"/></filter>
<filter id="bl4" x="-50%" y="-50%" width="200%" height="200%"><feGaussianBlur stdDeviation="4"/></filter>
<linearGradient id="house" x1="0" y1="0" x2="1" y2="0"><stop offset="0" stop-color="#56709e"/><stop offset="0.5" stop-color="#5a6892"/><stop offset="1" stop-color="#5a6490"/></linearGradient>
<linearGradient id="win" x1="0" y1="0" x2="0" y2="1"><stop offset="0" stop-color="#3286e0"/><stop offset="0.45" stop-color="#2c70d8"/><stop offset="1" stop-color="#2450d0"/></linearGradient>
<linearGradient id="gel1" x1="0" y1="0" x2="0" y2="1"><stop offset="0" stop-color="#d4d5e2"/><stop offset="0.3" stop-color="#d3d4dc"/><stop offset="0.6" stop-color="#cfd0ca"/><stop offset="1" stop-color="#c9c9c5"/></linearGradient>
<linearGradient id="smear" x1="0" y1="0" x2="0" y2="1"><stop offset="0" stop-color="#8c90e0" stop-opacity="0"/><stop offset="1" stop-color="#5a66d8" stop-opacity="0.8"/></linearGradient>
<linearGradient id="gel2" x1="0" y1="0" x2="0" y2="1"><stop offset="0" stop-color="#bcbedc"/><stop offset="1" stop-color="#bfc1d6"/></linearGradient>
<linearGradient id="wall" x1="0" y1="0" x2="0" y2="1"><stop offset="0" stop-color="#9c9f8d"/><stop offset="0.16" stop-color="#959884"/><stop offset="0.161" stop-color="#7e7a62"/><stop offset="0.3" stop-color="#929077"/><stop offset="0.4" stop-color="#aeb0a0"/><stop offset="0.5" stop-color="#cfd0c8"/><stop offset="1" stop-color="#e8e8e4"/></linearGradient>
<linearGradient id="wallh" x1="0" y1="0" x2="1" y2="0"><stop offset="0" stop-color="#fff" stop-opacity="0"/><stop offset="0.55" stop-color="#fff" stop-opacity="0.22"/><stop offset="1" stop-color="#fff" stop-opacity="0.1"/></linearGradient>
<linearGradient id="barrel" x1="0" y1="0" x2="1" y2="0"><stop offset="0" stop-color="#d6d0cc"/><stop offset="0.3" stop-color="#e6e0dc"/><stop offset="0.7" stop-color="#e4dedb"/><stop offset="1" stop-color="#d0cac6"/></linearGradient>
<linearGradient id="ring" x1="0" y1="0" x2="0" y2="1"><stop offset="0" stop-color="#121214"/><stop offset="0.3" stop-color="#2a2a2e"/><stop offset="0.5" stop-color="#1a1a1c"/><stop offset="0.72" stop-color="#3a3a3e"/><stop offset="0.85" stop-color="#111113"/><stop offset="1" stop-color="#262628"/></linearGradient>
<linearGradient id="tube" x1="0" y1="0" x2="0" y2="1"><stop offset="0" stop-color="#c8fbff"/><stop offset="0.5" stop-color="#7ff0fa"/><stop offset="1" stop-color="#3fc8ee"/></linearGradient>
<pattern id="stripe" width="4" height="3.4" patternUnits="userSpaceOnUse"><rect width="4" height="3.4" fill="#fff"/><rect width="4" height="1.9" fill="#e9a21a"/></pattern>
<pattern id="stripe2" width="4" height="3.4" patternUnits="userSpaceOnUse" patternTransform="skewY(-35)"><rect width="4" height="3.4" fill="#f4e3c4"/><rect width="4" height="1.9" fill="#b27a10"/></pattern>
</defs>
<g>
<clipPath id="uvc"><rect x="0" y="1074.2" width="378.6" height="176.1"/></clipPath>
<g clip-path="url(#uvc)">
<rect x="0" y="1074.2" width="378.6" height="176.1" fill="#1c1d20"/>
<path d="M0,1112 Q6,1077 48,1076.5 L332,1076.5 Q374,1078 376,1115 L376,1244 L0,1244 Z" fill="url(#house)"/>
<rect x="0" y="1100" width="14" height="144" fill="#5b7eaa" opacity="0.55" filter="url(#bl2)"/>
<rect x="0" y="1243.8" width="379" height="7" fill="#2b3139"/>
<path d="M53.5,1230 L53.5,1146 Q54,1133 68,1132 L160,1129 L250,1128 L316,1130 Q330,1131 330,1146 L330,1230 Z" fill="url(#win)"/>
<g filter="url(#bl1)">
<path d="M55,1140 L80,1136 L80,1225 L55,1228Z" fill="#2a5fc8" opacity="0.8"/>
<path d="M328,1140 L300,1134 L300,1225 L328,1228Z" fill="#2f78d8" opacity="0.8"/>
<rect x="129.5" y="1142" width="107" height="39.5" rx="3" fill="#2c2a66"/>
<path d="M172,1168 Q180,1160 190,1165" stroke="#5a3a50" stroke-width="5" fill="none"/>
<rect x="129.5" y="1181" width="107" height="18" fill="#2a3cc0"/>
<rect x="90" y="1199" width="200" height="31" fill="#1f36c4"/>
<rect x="110" y="1198" width="160" height="1.6" fill="#5a80e8"/>
<path d="M58,1192 L101,1170 M58,1215 L112,1183" stroke="#6ae2f6" stroke-width="14" stroke-linecap="round" fill="none"/>
<path d="M58,1192 L101,1170 M58,1215 L112,1183" stroke="#d4feff" stroke-width="7.5" stroke-linecap="round" fill="none"/>
<path d="M56,1192 Q50,1204 58,1215" stroke="#8ef0fb" stroke-width="11" fill="none"/>
<ellipse cx="107" cy="1176" rx="8" ry="12" transform="rotate(-30 107 1176)" fill="#4fb8e8" stroke="#0c1840" stroke-width="2"/>
<path d="M326,1192 L283,1170 M326,1215 L272,1183" stroke="#6ae2f6" stroke-width="14" stroke-linecap="round" fill="none"/>
<path d="M326,1192 L283,1170 M326,1215 L272,1183" stroke="#d4feff" stroke-width="7.5" stroke-linecap="round" fill="none"/>
<path d="M328,1192 Q334,1204 326,1215" stroke="#8ef0fb" stroke-width="11" fill="none"/>
<ellipse cx="277" cy="1176" rx="8" ry="12" transform="rotate(30 277 1176)" fill="#4fb8e8" stroke="#0c1840" stroke-width="2"/>
<ellipse cx="150" cy="1134" rx="9" ry="6.5" fill="#b8f6ff"/><ellipse cx="167" cy="1134" rx="9" ry="6.5" fill="#b8f6ff"/>
<path d="M212,1133 Q222,1143 240,1138 L263,1132" stroke="#a8f4ff" stroke-width="9" fill="none"/>
<path d="M140,1137 Q160,1147 180,1137 M210,1139 Q225,1146 240,1139" stroke="#0c1840" stroke-width="1.6" fill="none"/>
<path d="M92,1205 Q112,1188 138,1196 L140,1228 L95,1228Z" fill="#6fc8f0" opacity="0.85"/>
<path d="M245,1196 Q268,1188 290,1205 L288,1228 L243,1228Z" fill="#6fc8f0" opacity="0.85"/>
<rect x="134" y="1166" width="18" height="20" rx="3" fill="#8fd8f4" opacity="0.8"/>
<rect x="208" y="1160" width="35" height="24" rx="3" fill="#8fd8f4" opacity="0.8"/>
<circle cx="141" cy="1186" r="4" fill="#802040"/><circle cx="233" cy="1186" r="4" fill="#802040"/>
</g>
<path d="M53.5,1229.7 L330,1229.7 L330,1243.8 L53.5,1243.8Z" fill="#545e7e"/>
<path d="M53.5,1230.5 L330,1230.5" stroke="#7d88aa" stroke-width="1.5"/>
</g></g>
<g>
<clipPath id="syc"><rect x="399.1" y="984.5" width="209.6" height="279.9"/></clipPath>
<g clip-path="url(#syc)">
<rect x="399.1" y="984.5" width="209.6" height="279.9" fill="url(#wall)"/>
<rect x="399.1" y="984.5" width="209.6" height="44.5" fill="url(#wallh)"/>
<rect x="399.1" y="1029" width="209.6" height="1.5" fill="#6a6a58"/>
<rect x="399" y="984" width="5" height="120" fill="#60625a"/>
<path d="M462,984 C462,1015 461,1038 455,1058 C449,1074 441,1086 436,1093" stroke="#8e3a1e" stroke-width="8" fill="none"/>
<path d="M490,984 C488,1000 484,1015 476,1030 C468,1045 460,1060 455,1070" stroke="#b24e2c" stroke-width="7" fill="none"/>
<path d="M545,984 C547,1030 547,1070 550,1110 M552,984 C555,1030 556,1070 560,1110 M562,984 L563,1060" stroke="#b8bcb0" stroke-width="2.2" fill="none"/>
<path d="M562.5,1135 L562.5,1032 Q563,1020 575,1016 L580,1010 L609,1010 L609,1135Z" fill="#2b1d1a"/>
<path d="M579,1008 L580,992 Q582,986 590,986 L606,986 L608,1010 Z" fill="#a01c22"/>
<rect x="591" y="1058" width="18" height="46" fill="#cfcfca"/>
<rect x="540" y="1091" width="18" height="40" fill="#b4b22c"/>
<rect x="592" y="1126" width="17" height="14" fill="#1e7a3a"/>
<path d="M538,1128 L604,1128 L608,1160 L540,1164Z" fill="#f2f2f0"/>
<rect x="485" y="1088" width="14" height="30" fill="#dcdcd4" opacity="0.8"/>
<rect x="405.8" y="1200" width="23" height="66" fill="#e2dcd6"/>
<ellipse cx="417.3" cy="1257" rx="17" ry="7" fill="#e6e0da"/>
<rect x="392.1" y="1190" width="50.4" height="15" rx="5" fill="#e4dfda" opacity="0.9"/>
<rect x="402.1" y="1056" width="30.4" height="142" fill="url(#barrel)"/>
<rect x="402.6" y="1058" width="29.4" height="38" fill="#c4c6ba" opacity="0.85"/>
<ellipse cx="416.3" cy="1086" rx="14" ry="8" fill="#f4f4f2"/>
<rect x="402.1" y="1096.5" width="30.4" height="19" fill="url(#ring)"/>
<rect x="404.8" y="1006" width="25" height="27.5" rx="2.5" fill="#d82420"/>
<rect x="409.8" y="1032" width="15" height="20" fill="#d4201c"/>
<rect x="407.8" y="1049" width="19" height="5" rx="2" fill="#dc2622"/>
<rect x="457.9" y="1200" width="23" height="66" fill="#e2dcd6"/>
<ellipse cx="469.4" cy="1257" rx="17" ry="7" fill="#e6e0da"/>
<rect x="445.3" y="1190" width="48.1" height="15" rx="5" fill="#e4dfda" opacity="0.9"/>
<rect x="455.3" y="1058" width="28.1" height="140" fill="url(#barrel)"/>
<rect x="455.8" y="1060" width="27.1" height="40" fill="#ede9e6"/>
<rect x="455.3" y="1099" width="28.1" height="19" fill="url(#ring)"/>
<rect x="456.9" y="1008" width="25" height="27.5" rx="2.5" fill="#d82420"/>
<rect x="461.9" y="1034" width="15" height="20" fill="#d4201c"/>
<rect x="459.9" y="1051" width="19" height="5" rx="2" fill="#dc2622"/>
<path d="M479.4,1062 v120" stroke="#5570d0" stroke-width="4" stroke-dasharray="1 2.4" opacity="0.75"/>
<rect x="515" y="1200" width="23" height="66" fill="#e2dcd6"/>
<ellipse cx="526.5" cy="1257" rx="17" ry="7" fill="#e6e0da"/>
<rect x="502.5" y="1190" width="48" height="15" rx="5" fill="#e4dfda" opacity="0.9"/>
<rect x="512.5" y="1060" width="28" height="138" fill="url(#barrel)"/>
<rect x="513" y="1062" width="27" height="41.5" fill="#ede9e6"/>
<rect x="512.5" y="1102.5" width="28" height="19" fill="url(#ring)"/>
<rect x="514" y="1010" width="25" height="27.5" rx="2.5" fill="#d82420"/>
<rect x="519" y="1036" width="15" height="20" fill="#d4201c"/>
<rect x="517" y="1053" width="19" height="5" rx="2" fill="#dc2622"/>
<rect x="568" y="1200" width="23" height="66" fill="#e2dcd6"/>
<ellipse cx="579.5" cy="1257" rx="17" ry="7" fill="#e6e0da"/>
<rect x="553.7" y="1190" width="51.6" height="15" rx="5" fill="#e4dfda" opacity="0.9"/>
<rect x="563.7" y="1062" width="31.6" height="136" fill="url(#barrel)"/>
<rect x="564.2" y="1064" width="30.6" height="40.6" fill="#ede9e6"/>
<rect x="563.7" y="1103.6" width="31.6" height="19" fill="url(#ring)"/>
<rect x="567" y="1012" width="25" height="27.5" rx="2.5" fill="#d82420"/>
<rect x="572" y="1038" width="15" height="20" fill="#d4201c"/>
<rect x="570" y="1055" width="19" height="5" rx="2" fill="#dc2622"/>
<text x="408.2" y="1240.7" font-size="18.2" fill="#3a3a3a">50</text>
<text x="451.5" y="1240.7" font-size="18.2" fill="#3a3a3a">500</text>
<text x="500.5" y="1240.7" font-size="18.2" fill="#3a3a3a">2000</text>
<text x="556.8" y="1240.7" font-size="18.2" fill="#3a3a3a">5000</text>
</g></g>
<g>
<clipPath id="g1c"><rect x="726" y="990.7" width="216.5" height="279.3"/></clipPath>
<g clip-path="url(#g1c)">
<rect x="726" y="990.7" width="216.5" height="279.3" fill="url(#gel1)"/>
<rect x="726" y="990.7" width="216.5" height="47" fill="#eeecdf"/>
<path d="M730,992 Q727,1012 728,1040 M747,992 Q744,1012 745,1040 M771,992 Q768,1012 769,1040 M793,992 Q790,1012 791,1040 M814,992 Q811,1012 812,1040 M832,992 Q829,1012 830,1040 M854,992 Q851,1012 852,1040 M877,992 Q874,1012 875,1040 M896,992 Q893,1012 894,1040 M920,992 Q917,1012 918,1040 M936,992 Q933,1012 934,1040" stroke="#d8d8dc" stroke-width="3.5" fill="none" opacity="0.8"/>
<path d="M862,1015 Q870,1010 885,1025" stroke="#d8d8e0" stroke-width="4" fill="none"/>
<rect x="726" y="1037.5" width="216.5" height="21" fill="#d8d8e2"/>
<rect x="726" y="1057.5" width="216.5" height="1.5" fill="#c4c6dc"/>
<g filter="url(#bl2)">
<ellipse cx="741.7" cy="1168.5" rx="9" ry="8" fill="#2a3ed0" opacity="1.0"/>
<rect x="733.7" y="1130" width="16" height="34" fill="url(#smear)" opacity="1"/>
<ellipse cx="762.3" cy="1168.5" rx="9.5" ry="9" fill="#2a3ed0" opacity="1.0"/>
<rect x="753.8" y="1130" width="17" height="34" fill="url(#smear)" opacity="1"/>
<ellipse cx="782.4" cy="1168.5" rx="9" ry="8.5" fill="#2a3ed0" opacity="1.0"/>
<rect x="774.4" y="1130" width="16" height="34" fill="url(#smear)" opacity="1"/>
<ellipse cx="803" cy="1168.5" rx="8.2" ry="7" fill="#2a3ed0" opacity="0.92"/>
<rect x="795.8" y="1130" width="14.5" height="34" fill="url(#smear)" opacity="0.9"/>
<ellipse cx="823.2" cy="1168.5" rx="6.8" ry="4.5" fill="#2a3ed0" opacity="0.7"/>
<rect x="817.5" y="1130" width="11.5" height="34" fill="url(#smear)" opacity="0.7"/>
<ellipse cx="844" cy="1168.5" rx="5.5" ry="2.5" fill="#2a3ed0" opacity="0.3"/>
<rect x="839.5" y="1130" width="9" height="34" fill="url(#smear)" opacity="0.3"/>
<ellipse cx="864" cy="1168.5" rx="5" ry="2" fill="#2a3ed0" opacity="0.12"/>
<rect x="860" y="1130" width="8" height="34" fill="url(#smear)" opacity="0.1"/>
<ellipse cx="903.5" cy="1169.5" rx="8.5" ry="7" fill="#2a3ed0"/>
<ellipse cx="925.2" cy="1159.5" rx="9.8" ry="6.5" fill="#2a3ed0"/>
<rect x="917" y="1135" width="16" height="20" fill="url(#smear)" opacity="0.6"/>
<ellipse cx="738.5" cy="1109.5" rx="9" ry="3.5" fill="#4a5ed8" opacity="0.55"/>
<ellipse cx="764" cy="1109.5" rx="9" ry="3.5" fill="#4a5ed8" opacity="0.6"/>
<ellipse cx="783" cy="1109.5" rx="9" ry="3.5" fill="#4a5ed8" opacity="0.55"/>
<ellipse cx="803.5" cy="1109.5" rx="9" ry="3.5" fill="#4a5ed8" opacity="0.3"/>
<ellipse cx="904.5" cy="1113" rx="7" ry="3" fill="#4a5ed8" opacity="0.5"/>
<ellipse cx="926.5" cy="1108" rx="8" ry="3.5" fill="#4a5ed8" opacity="0.6"/>
<rect x="730" y="1062" width="17" height="45" fill="#7080dc" opacity="0.25"/>
<rect x="755.5" y="1062" width="17" height="45" fill="#7080dc" opacity="0.25"/>
<rect x="774.5" y="1062" width="17" height="45" fill="#7080dc" opacity="0.45"/>
<rect x="795" y="1062" width="17" height="45" fill="#7080dc" opacity="0.35"/>
<ellipse cx="783" cy="1062.5" rx="9" ry="3.2" fill="#2a3ed0" opacity="0.85"/>
<ellipse cx="783" cy="1071" rx="8.5" ry="2.5" fill="#4a60d8" opacity="0.425"/>
<ellipse cx="803.5" cy="1062.5" rx="9" ry="3.2" fill="#2a3ed0" opacity="1.0"/>
<ellipse cx="803.5" cy="1071" rx="8.5" ry="2.5" fill="#4a60d8" opacity="0.5"/>
<ellipse cx="825" cy="1062.5" rx="9" ry="3.2" fill="#2a3ed0" opacity="0.9"/>
<ellipse cx="825" cy="1071" rx="8.5" ry="2.5" fill="#4a60d8" opacity="0.45"/>
<ellipse cx="847" cy="1062.5" rx="9" ry="3.2" fill="#2a3ed0" opacity="0.95"/>
<ellipse cx="847" cy="1071" rx="8.5" ry="2.5" fill="#4a60d8" opacity="0.475"/>
<ellipse cx="868.5" cy="1062.5" rx="9" ry="3.2" fill="#2a3ed0" opacity="1.0"/>
<ellipse cx="868.5" cy="1071" rx="8.5" ry="2.5" fill="#4a60d8" opacity="0.5"/>
<ellipse cx="886" cy="1062.5" rx="9" ry="3.2" fill="#2a3ed0" opacity="0.95"/>
<ellipse cx="886" cy="1071" rx="8.5" ry="2.5" fill="#4a60d8" opacity="0.475"/>
<ellipse cx="803.5" cy="1040.5" rx="9" ry="3" fill="#2a3ed0" opacity="0.45"/>
<rect x="795" y="1042" width="17" height="16" fill="#5a70dc" opacity="0.18000000000000002"/>
<ellipse cx="825" cy="1040.5" rx="9" ry="3" fill="#2a3ed0" opacity="1.0"/>
<rect x="816.5" y="1042" width="17" height="16" fill="#5a70dc" opacity="0.4"/>
<ellipse cx="847" cy="1040.5" rx="9" ry="3" fill="#2a3ed0" opacity="0.95"/>
<rect x="838.5" y="1042" width="17" height="16" fill="#5a70dc" opacity="0.38"/>
<ellipse cx="868.5" cy="1040.5" rx="9" ry="3" fill="#2a3ed0" opacity="1.0"/>
<rect x="860" y="1042" width="17" height="16" fill="#5a70dc" opacity="0.4"/>
<ellipse cx="886" cy="1040.5" rx="9" ry="3" fill="#2a3ed0" opacity="1.0"/>
<rect x="877.5" y="1042" width="17" height="16" fill="#5a70dc" opacity="0.4"/>
<ellipse cx="847" cy="1098" rx="7" ry="2.5" fill="#6070d8" opacity="0.3"/>
<ellipse cx="868.5" cy="1098" rx="7" ry="2.5" fill="#6070d8" opacity="0.3"/>
<ellipse cx="886" cy="1098" rx="7" ry="2.5" fill="#6070d8" opacity="0.2"/>
</g>
<text x="737.7" y="1035.5" font-size="17.5" fill="#111" text-anchor="middle">1</text>
<text x="764.4" y="1035.5" font-size="17.5" fill="#111" text-anchor="middle">2</text>
<text x="781.2" y="1035.5" font-size="17.5" fill="#111" text-anchor="middle">3</text>
<text x="802.5" y="1035.5" font-size="17.5" fill="#111" text-anchor="middle">4</text>
<text x="824.5" y="1035.5" font-size="17.5" fill="#111" text-anchor="middle">5</text>
<text x="846.3" y="1035.5" font-size="17.5" fill="#111" text-anchor="middle">6</text>
<text x="867.7" y="1035.5" font-size="17.5" fill="#111" text-anchor="middle">7</text>
<text x="884.2" y="1035.5" font-size="17.5" fill="#111" text-anchor="middle">8</text>
<text x="903.9" y="1035.5" font-size="17.5" fill="#111" text-anchor="middle">9</text>
<text x="926.5" y="1035.5" font-size="17.5" fill="#111" text-anchor="middle">10</text>
<text x="742.6" y="1195.6" font-size="11.7" fill="#fff" text-anchor="middle">5</text>
<text x="761.3" y="1195.6" font-size="11.7" fill="#2a4aa0" text-anchor="middle">15</text>
<text x="783.3" y="1195.6" font-size="11.7" fill="#fff" text-anchor="middle">35</text>
<text x="801.4" y="1195.6" font-size="11.7" fill="#2a4aa0" text-anchor="middle">45</text>
<text x="823.3" y="1195.6" font-size="11.7" fill="#fff" text-anchor="middle">70</text>
<text x="843.2" y="1195.6" font-size="11.7" fill="#2a4aa0" text-anchor="middle">100</text>
<text x="864.7" y="1195.6" font-size="11.7" fill="#fff" text-anchor="middle">130</text>
<text x="887.4" y="1195.6" font-size="11.7" fill="#2a4aa0" text-anchor="middle">300</text>
</g></g>
<text x="698.5" y="1186.8" font-size="18.5" font-style="italic" fill="#2a4a9a" text-anchor="middle">Time</text>
<text x="695.4" y="1208.5" font-size="18.5" font-style="italic" fill="#2a4a9a" text-anchor="middle">(min)</text>
<g>
<rect x="1030.3" y="1044" width="19.8" height="154" fill="#efefef"/><path d="M1050.1,1044 L1056.3,1039.6 L1056.3,1193.6 L1050.1,1198 Z" fill="#9a9a9a"/><path d="M1030.3,1044 L1036.5,1039.6 L1056.3,1039.6 L1050.1,1044 Z" fill="#c6c6c6"/>
<rect x="1067" y="1014.3" width="19.8" height="183.7" fill="#8f8f8f"/><path d="M1086.8,1014.3 L1093,1009.9 L1093,1193.6 L1086.8,1198 Z" fill="#5d5d5d"/><path d="M1067,1014.3 L1073.2,1009.9 L1093,1009.9 L1086.8,1014.3 Z" fill="#6b6b6b"/>
<rect x="1103.3" y="1037.4" width="19.8" height="160.6" fill="#f3e640"/><path d="M1123.1,1037.4 L1129.3,1033 L1129.3,1193.6 L1123.1,1198 Z" fill="#a69a30"/><path d="M1103.3,1037.4 L1109.5,1033 L1129.3,1033 L1123.1,1037.4 Z" fill="#c9bb3a"/>
<rect x="1140" y="1088" width="19.8" height="110" fill="#e89e03"/><path d="M1159.8,1088 L1166,1083.6 L1166,1193.6 L1159.8,1198 Z" fill="#9c6a02"/><path d="M1140,1088 L1146.2,1083.6 L1166,1083.6 L1159.8,1088 Z" fill="#b67c05"/>
<rect x="1176.6" y="1145.7" width="19.8" height="52.3" fill="url(#stripe)"/><path d="M1196.4,1145.7 L1202.6,1141.3 L1202.6,1193.6 L1196.4,1198 Z" fill="url(#stripe2)"/><path d="M1176.6,1145.7 L1182.8,1141.3 L1202.6,1141.3 L1196.4,1145.7 Z" fill="#d49a40"/>
<rect x="1213.3" y="1186.6" width="19.8" height="11.4" fill="#d75c02"/><path d="M1233.1,1186.6 L1239.3,1182.2 L1239.3,1193.6 L1233.1,1198 Z" fill="#8a3b02"/><path d="M1213.3,1186.6 L1219.5,1182.2 L1239.3,1182.2 L1233.1,1186.6 Z" fill="#a84a06"/>
<path d="M1251,1197.5 L1270,1197.5 L1275,1194 L1256,1194Z" fill="#c07040"/><path d="M1250,1199.5 L1268,1199.5 L1271,1198 L1253,1198Z" fill="#d09060"/>
<path d="M1288,1198.5 L1310,1198.5 L1317,1194 L1295,1194Z" fill="#a8508e"/>
<path d="M1040.6,1061.2 L1077.6,1037.8 L1114.3,1055.4 L1151.1,1095 L1188,1139 L1224.8,1170.7 L1261.7,1180 L1298.5,1180.4" fill="none" stroke="#0b70b0" stroke-width="2.8" stroke-linejoin="round"/><circle cx="1040.6" cy="1061.2" r="5.3" fill="#fff" stroke="#0b70b0" stroke-width="2.8"/><circle cx="1077.6" cy="1037.8" r="5.3" fill="#fff" stroke="#0b70b0" stroke-width="2.8"/><circle cx="1114.3" cy="1055.4" r="5.3" fill="#fff" stroke="#0b70b0" stroke-width="2.8"/><circle cx="1151.1" cy="1095" r="5.3" fill="#fff" stroke="#0b70b0" stroke-width="2.8"/><circle cx="1188" cy="1139" r="5.3" fill="#fff" stroke="#0b70b0" stroke-width="2.8"/><circle cx="1224.8" cy="1170.7" r="5.3" fill="#fff" stroke="#0b70b0" stroke-width="2.8"/><circle cx="1261.7" cy="1180" r="5.3" fill="#fff" stroke="#0b70b0" stroke-width="2.8"/><circle cx="1298.5" cy="1180.4" r="5.3" fill="#fff" stroke="#0b70b0" stroke-width="2.8"/>
<text transform="translate(1013,1184.8) rotate(-90)" font-size="19.7" fill="#555">[BSA-Br.&#160;&#160;<tspan font-style="italic">I</tspan><tspan font-size="14" dy="7">o</tspan><tspan dy="-7">]&#160;&#160;(a.u.)</tspan></text>
<text transform="translate(1050.2,1216.5) rotate(-45)" font-size="21" fill="#555" text-anchor="end">5</text>
<text transform="translate(1087.6,1216.5) rotate(-45)" font-size="21" fill="#555" text-anchor="end">15</text>
<text transform="translate(1125,1216.5) rotate(-45)" font-size="21" fill="#555" text-anchor="end">35</text>
<text transform="translate(1162.4,1216.5) rotate(-45)" font-size="21" fill="#555" text-anchor="end">45</text>
<text transform="translate(1199.8,1216.5) rotate(-45)" font-size="21" fill="#555" text-anchor="end">70</text>
<text transform="translate(1237.2,1216.5) rotate(-45)" font-size="21" fill="#555" text-anchor="end">100</text>
<text transform="translate(1274.6,1216.5) rotate(-45)" font-size="21" fill="#555" text-anchor="end">130</text>
<text transform="translate(1312,1216.5) rotate(-45)" font-size="21" fill="#555" text-anchor="end">300</text>
<text x="1171.5" y="1267.3" font-size="20.5" fill="#555" text-anchor="middle">Reaction time (min)</text>
</g>
<g>
<clipPath id="g2c"><rect x="1419.4" y="984.4" width="159.1" height="280.9"/></clipPath>
<g clip-path="url(#g2c)">
<rect x="1419.4" y="984.4" width="159.1" height="280.9" fill="#ecebd6"/>
<path d="M1419.4,1266 L1419.4,1075 Q1421,1050 1424,1030 L1424,1016 Q1426,1011 1432,1011.5 Q1437,1012 1440,1017 L1455,1016 Q1468,1014 1476,1008 Q1478,994 1484,992.5 Q1491,992 1496,998 Q1506,1003 1520,1005.5 Q1535,1005 1545,997 Q1552,990 1560,989 Q1570,990 1578.5,998 L1578.5,1266 Z" fill="url(#gel2)"/>
<path d="M1419.4,1266 L1419.4,1075 Q1421,1050 1424,1030 L1424,1016 Q1426,1011 1432,1011.5 Q1437,1012 1440,1017 L1455,1016 Q1468,1014 1476,1008 Q1478,994 1484,992.5 Q1491,992 1496,998 Q1506,1003 1520,1005.5 Q1535,1005 1545,997 Q1552,990 1560,989 Q1570,990 1578.5,998 L1578.5,1266 Z" fill="none" stroke="#a8aad0" stroke-width="1.2"/>
<path d="M1480,996 Q1486,1010 1488,1040 M1489,995 Q1500,1010 1508,1040 M1496,1000 Q1515,1010 1528,1040 M1506,1004 Q1540,1012 1552,1040 M1560,990 Q1560,1010 1558,1040 M1566,992 Q1575,1005 1578,1030" stroke="#a4a6d0" stroke-width="1.5" fill="none"/>
<rect x="1422" y="1068" width="157" height="1.5" fill="#b0b2d4" opacity="0.7"/>
<g filter="url(#bl1)">
<rect x="1433.5" y="1040" width="19" height="28" fill="#5a6ee0" opacity="0.3"/>
<rect x="1433" y="1069.5" width="20" height="6" rx="2" fill="#2c42d6"/>
<rect x="1433.5" y="1079" width="19" height="5" rx="2" fill="#2c42d6" opacity="0.65"/>
<rect x="1434" y="1097" width="18" height="6" rx="2" fill="#4a5ed8" opacity="0.45"/>
<rect x="1434" y="1109" width="18" height="5" rx="2" fill="#6070d8" opacity="0.4"/>
<rect x="1456.5" y="1040" width="19" height="28" fill="#5a6ee0" opacity="0.3"/>
<rect x="1456" y="1069.5" width="20" height="6" rx="2" fill="#2c42d6"/>
<rect x="1456.5" y="1079" width="19" height="5" rx="2" fill="#2c42d6" opacity="0.65"/>
<rect x="1457" y="1097" width="18" height="6" rx="2" fill="#4a5ed8" opacity="0.45"/>
<rect x="1457" y="1109" width="18" height="5" rx="2" fill="#6070d8" opacity="0.4"/>
<rect x="1476.5" y="1040" width="19" height="28" fill="#5a6ee0" opacity="0.62"/>
<rect x="1476" y="1069.5" width="20" height="6" rx="2" fill="#2c42d6"/>
<rect x="1476.5" y="1079" width="19" height="5" rx="2" fill="#2c42d6" opacity="0.65"/>
<rect x="1477" y="1097" width="18" height="6" rx="2" fill="#4a5ed8" opacity="0.6"/>
<rect x="1477" y="1109" width="18" height="5" rx="2" fill="#6070d8" opacity="0.3"/>
<rect x="1497" y="1040" width="19" height="28" fill="#5a6ee0" opacity="0.55"/>
<rect x="1496.5" y="1069.5" width="20" height="6" rx="2" fill="#2c42d6"/>
<rect x="1497" y="1079" width="19" height="5" rx="2" fill="#2c42d6" opacity="0.65"/>
<rect x="1497.5" y="1097" width="18" height="6" rx="2" fill="#4a5ed8" opacity="0.5"/>
<rect x="1497.5" y="1109" width="18" height="5" rx="2" fill="#6070d8" opacity="0.3"/>
<rect x="1517" y="1040" width="19" height="28" fill="#5a6ee0" opacity="0.55"/>
<rect x="1516.5" y="1069.5" width="20" height="6" rx="2" fill="#2c42d6"/>
<rect x="1517" y="1079" width="19" height="5" rx="2" fill="#2c42d6" opacity="0.65"/>
<rect x="1517.5" y="1097" width="16" height="6" rx="2" fill="#4a5ed8" opacity="0.85"/>
<rect x="1517.5" y="1109" width="18" height="5" rx="2" fill="#6070d8" opacity="0"/>
<rect x="1537" y="1040" width="19" height="28" fill="#5a6ee0" opacity="0.5"/>
<rect x="1536.5" y="1069.5" width="20" height="6" rx="2" fill="#2c42d6"/>
<rect x="1537" y="1079" width="19" height="5" rx="2" fill="#2c42d6" opacity="0.65"/>
<rect x="1537.5" y="1097" width="16" height="6" rx="2" fill="#4a5ed8" opacity="0.75"/>
<rect x="1537.5" y="1109" width="18" height="5" rx="2" fill="#6070d8" opacity="0"/>
<rect x="1430" y="1154.5" width="84" height="13.5" rx="6" fill="#2c42d6"/>
<rect x="1432" y="1130" width="80" height="24" fill="url(#smear)" opacity="0.5"/>
<ellipse cx="1525" cy="1148" rx="6" ry="4" fill="#8a90e0" opacity="0.45"/>
<ellipse cx="1564.5" cy="1161.5" rx="9.5" ry="7" fill="#2c42d6"/>
<ellipse cx="1564.5" cy="1112" rx="7.5" ry="3" fill="#4a5ed8" opacity="0.7"/>
</g>
<rect x="1436.6" y="1014" width="16" height="23" rx="4" fill="#e6e6ee"/>
<ellipse cx="1444.6" cy="1038" rx="8.5" ry="2" fill="#2a3ee0" opacity="0.35" filter="url(#bl1)"/>
<text x="1444.6" y="1032.4" font-size="17" fill="#111" text-anchor="middle">1</text>
<rect x="1457.7" y="1014" width="16" height="23" rx="4" fill="#e6e6ee"/>
<ellipse cx="1465.7" cy="1038" rx="8.5" ry="2" fill="#2a3ee0" opacity="0.35" filter="url(#bl1)"/>
<text x="1465.7" y="1032.4" font-size="17" fill="#111" text-anchor="middle">2</text>
<rect x="1479.2" y="1014" width="16" height="23" rx="4" fill="#e6e6ee"/>
<ellipse cx="1487.2" cy="1038" rx="8.5" ry="2" fill="#2a3ee0" opacity="1" filter="url(#bl1)"/>
<text x="1487.2" y="1032.4" font-size="17" fill="#111" text-anchor="middle">3</text>
<rect x="1499.8" y="1014" width="16" height="23" rx="4" fill="#e6e6ee"/>
<ellipse cx="1507.8" cy="1038" rx="8.5" ry="2" fill="#2a3ee0" opacity="0.95" filter="url(#bl1)"/>
<text x="1507.8" y="1032.4" font-size="17" fill="#111" text-anchor="middle">4</text>
<rect x="1516.7" y="1014" width="16" height="23" rx="4" fill="#e6e6ee"/>
<ellipse cx="1524.7" cy="1038" rx="8.5" ry="2" fill="#2a3ee0" opacity="0.95" filter="url(#bl1)"/>
<text x="1524.7" y="1032.4" font-size="17" fill="#111" text-anchor="middle">5</text>
<rect x="1538.2" y="1014" width="16" height="23" rx="4" fill="#e6e6ee"/>
<ellipse cx="1546.2" cy="1038" rx="8.5" ry="2" fill="#2a3ee0" opacity="0.95" filter="url(#bl1)"/>
<text x="1546.2" y="1032.4" font-size="17" fill="#111" text-anchor="middle">6</text>
<rect x="1560" y="1014" width="16" height="23" rx="4" fill="#e6e6ee"/>
<text x="1568" y="1032.4" font-size="17" fill="#111" text-anchor="middle">7</text>
</g></g>
<g>
<rect x="1677" y="1019.9" width="19.3" height="173.8" fill="#f3e640"/><path d="M1696.3,1019.9 L1702.3,1015.4 L1702.3,1189.2 L1696.3,1193.7 Z" fill="#a69a30"/><path d="M1677,1019.9 L1683,1015.4 L1702.3,1015.4 L1696.3,1019.9 Z" fill="#c9bb3a"/>
<rect x="1712.1" y="1033.7" width="19.3" height="160" fill="#cdcdcd"/><path d="M1731.4,1033.7 L1737.4,1029.2 L1737.4,1189.2 L1731.4,1193.7 Z" fill="#8a8a8a"/><path d="M1712.1,1033.7 L1718.1,1029.2 L1737.4,1029.2 L1731.4,1033.7 Z" fill="#a8a8a8"/>
<rect x="1747.5" y="1071.8" width="19.3" height="121.9" fill="#e89e03"/><path d="M1766.8,1071.8 L1772.8,1067.3 L1772.8,1189.2 L1766.8,1193.7 Z" fill="#9c6a02"/><path d="M1747.5,1071.8 L1753.5,1067.3 L1772.8,1067.3 L1766.8,1071.8 Z" fill="#b67c05"/>
<rect x="1783.3" y="1075.8" width="19.3" height="117.9" fill="#8f8f8f"/><path d="M1802.6,1075.8 L1808.6,1071.3 L1808.6,1189.2 L1802.6,1193.7 Z" fill="#5d5d5d"/><path d="M1783.3,1075.8 L1789.3,1071.3 L1808.6,1071.3 L1802.6,1075.8 Z" fill="#6b6b6b"/>
<path d="M1819,1193.7 L1837,1193.7 L1843,1189.5 L1825,1189.5Z" fill="#a84a06"/>
<path d="M1854,1193.7 L1872,1193.7 L1878.5,1189.5 L1860.5,1189.5Z" fill="#a8508e"/>
<path d="M1682.4,1065.9 L1719.8,1074.5 L1757.3,1099.3 L1794.4,1101.3 L1832.3,1176.7 L1869.4,1176.7" fill="none" stroke="#0b70b0" stroke-width="2.8" stroke-linejoin="round"/><circle cx="1682.4" cy="1065.9" r="6" fill="#fff" stroke="#0b70b0" stroke-width="2.8"/><circle cx="1719.8" cy="1074.5" r="6" fill="#fff" stroke="#0b70b0" stroke-width="2.8"/><circle cx="1757.3" cy="1099.3" r="6" fill="#fff" stroke="#0b70b0" stroke-width="2.8"/><circle cx="1794.4" cy="1101.3" r="6" fill="#fff" stroke="#0b70b0" stroke-width="2.8"/><circle cx="1832.3" cy="1176.7" r="6" fill="#fff" stroke="#0b70b0" stroke-width="2.8"/><circle cx="1869.4" cy="1176.7" r="6" fill="#fff" stroke="#0b70b0" stroke-width="2.8"/>
<g transform="translate(1689.5,991.5) scale(1.0)"><path d="M6,-15.6 C0,-12.5 -5.5,-10.5 -8,-6.5 C-11,-2 -10.5,4.5 -6.5,7.5 C-3.5,10 3,10.5 6.5,7 C10,3.5 10.3,0 10.4,-5 L10.6,-12 Z" fill="#bb9ae8" stroke="#000" stroke-width="1.5" stroke-linejoin="round"/><path d="M6.8,-15.2 L10.8,-12 M8.4,-17.7 L12.9,-14.3 M10.4,-20.5 L14.7,-17" stroke="#000" stroke-width="1.6" stroke-linecap="round"/><path d="M-20,-7.8 L-12.2,-6.4 M-21.3,3.7 L-14,1.8 M-10.3,16.2 L-7.1,11.3 M1.8,12.2 L3.9,19.5 M10.3,7.4 L14,14.5" stroke="#000" stroke-width="1.7" stroke-linecap="round"/></g>
<g transform="translate(1760.5,1046) scale(1.0)"><path d="M6,-15.6 C0,-12.5 -5.5,-10.5 -8,-6.5 C-11,-2 -10.5,4.5 -6.5,7.5 C-3.5,10 3,10.5 6.5,7 C10,3.5 10.3,0 10.4,-5 L10.6,-12 Z" fill="#bb9ae8" stroke="#000" stroke-width="1.5" stroke-linejoin="round"/><path d="M6.8,-15.2 L10.8,-12 M8.4,-17.7 L12.9,-14.3 M10.4,-20.5 L14.7,-17" stroke="#000" stroke-width="1.6" stroke-linecap="round"/><path d="M-20,-7.8 L-12.2,-6.4 M-21.3,3.7 L-14,1.8 M-10.3,16.2 L-7.1,11.3 M1.8,12.2 L3.9,19.5 M10.3,7.4 L14,14.5" stroke="#000" stroke-width="1.7" stroke-linecap="round"/></g>
<g transform="translate(1831,1146.5) scale(1.0)"><path d="M6,-15.6 C0,-12.5 -5.5,-10.5 -8,-6.5 C-11,-2 -10.5,4.5 -6.5,7.5 C-3.5,10 3,10.5 6.5,7 C10,3.5 10.3,0 10.4,-5 L10.6,-12 Z" fill="#bb9ae8" stroke="#000" stroke-width="1.5" stroke-linejoin="round"/><path d="M6.8,-15.2 L10.8,-12 M8.4,-17.7 L12.9,-14.3 M10.4,-20.5 L14.7,-17" stroke="#000" stroke-width="1.6" stroke-linecap="round"/><path d="M-20,-7.8 L-12.2,-6.4 M-21.3,3.7 L-14,1.8 M-10.3,16.2 L-7.1,11.3 M1.8,12.2 L3.9,19.5 M10.3,7.4 L14,14.5" stroke="#000" stroke-width="1.7" stroke-linecap="round"/></g>
<g transform="translate(1867,1150) scale(1.0)"><path d="M6,-15.6 C0,-12.5 -5.5,-10.5 -8,-6.5 C-11,-2 -10.5,4.5 -6.5,7.5 C-3.5,10 3,10.5 6.5,7 C10,3.5 10.3,0 10.4,-5 L10.6,-12 Z" fill="#bb9ae8" stroke="#000" stroke-width="1.5" stroke-linejoin="round"/><path d="M6.8,-15.2 L10.8,-12 M8.4,-17.7 L12.9,-14.3 M10.4,-20.5 L14.7,-17" stroke="#000" stroke-width="1.6" stroke-linecap="round"/><path d="M-20,-7.8 L-12.2,-6.4 M-21.3,3.7 L-14,1.8 M-10.3,16.2 L-7.1,11.3 M1.8,12.2 L3.9,19.5 M10.3,7.4 L14,14.5" stroke="#000" stroke-width="1.7" stroke-linecap="round"/></g>
<text transform="translate(1662,1186.3) rotate(-90)" font-size="19.7" fill="#555">[BSA-Br.&#160;&#160;<tspan font-style="italic">I</tspan><tspan font-size="14" dy="7">o</tspan><tspan dy="-7">]&#160;&#160;(a.u.)</tspan></text>
<text transform="translate(1694.3,1209.5) rotate(-45)" font-size="21.5" fill="#555" text-anchor="end">35 min</text>
<text transform="translate(1730.1,1209.5) rotate(-45)" font-size="21.5" fill="#555" text-anchor="end">120 min</text>
<text transform="translate(1765.9,1209.5) rotate(-45)" font-size="21.5" fill="#555" text-anchor="end">35 min</text>
<text transform="translate(1801.7,1209.5) rotate(-45)" font-size="21.5" fill="#555" text-anchor="end">8 h</text>
<text transform="translate(1837.5,1209.5) rotate(-45)" font-size="21.5" fill="#555" text-anchor="end">2 h</text>
<text transform="translate(1873.3,1209.5) rotate(-45)" font-size="21.5" fill="#555" text-anchor="end">3 h</text>
<text x="1775.4" y="1280.3" font-size="20.5" fill="#555" text-anchor="middle">On/off</text>
</g>
</svg></body></html>
